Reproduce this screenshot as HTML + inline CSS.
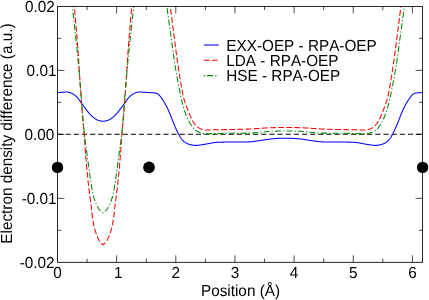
<!DOCTYPE html>
<html><head><meta charset="utf-8"><title>plot</title>
<style>
html,body{margin:0;padding:0;background:#fff;}
body{width:429px;height:300px;overflow:hidden;}
svg{display:block;}
text{font-family:"Liberation Sans",sans-serif;font-size:15.3px;fill:#000;font-kerning:none;text-rendering:geometricPrecision;}
</style></head><body>
<svg width="429" height="300" viewBox="0 0 429 300">
<rect width="429" height="300" fill="#fff"/>
<defs><clipPath id="c"><rect x="57.5" y="6.4" width="365.1" height="255.9"/></clipPath></defs>
<g clip-path="url(#c)" fill="none" stroke-width="1.05" stroke-linejoin="round">
<path d="M57.5,134.3 L422.6,134.3" stroke="#000" stroke-dasharray="5.1 3.05"/>
<path d="M57.50,92.51 L57.75,92.50 L58.00,92.48 L58.25,92.47 L58.50,92.46 L58.75,92.44 L59.00,92.43 L59.25,92.42 L59.50,92.40 L59.75,92.39 L60.00,92.38 L60.25,92.36 L60.50,92.35 L60.75,92.34 L61.00,92.32 L61.25,92.31 L61.50,92.29 L61.75,92.28 L62.00,92.26 L62.25,92.25 L62.50,92.23 L62.75,92.21 L63.00,92.19 L63.25,92.17 L63.50,92.15 L63.75,92.13 L64.00,92.12 L64.25,92.10 L64.50,92.08 L64.75,92.07 L65.00,92.05 L65.25,92.04 L65.50,92.03 L65.75,92.02 L66.00,92.01 L66.25,92.00 L66.50,92.00 L66.75,92.00 L67.00,92.01 L67.25,92.02 L67.50,92.05 L67.75,92.08 L68.00,92.13 L68.25,92.18 L68.50,92.23 L68.75,92.29 L69.00,92.36 L69.25,92.43 L69.50,92.51 L69.75,92.58 L70.00,92.67 L70.25,92.75 L70.50,92.83 L70.75,92.92 L71.00,93.00 L71.25,93.09 L71.50,93.19 L71.75,93.31 L72.00,93.43 L72.25,93.56 L72.50,93.70 L72.75,93.85 L73.00,94.00 L73.25,94.16 L73.50,94.33 L73.75,94.49 L74.00,94.66 L74.25,94.83 L74.50,95.01 L74.75,95.19 L75.00,95.39 L75.25,95.58 L75.50,95.79 L75.75,96.00 L76.00,96.23 L76.25,96.45 L76.50,96.69 L76.75,96.93 L77.00,97.18 L77.25,97.44 L77.50,97.71 L77.75,97.99 L78.00,98.30 L78.25,98.62 L78.50,98.95 L78.75,99.30 L79.00,99.65 L79.25,100.01 L79.50,100.38 L79.75,100.75 L80.00,101.12 L80.25,101.49 L80.50,101.85 L80.75,102.21 L81.00,102.56 L81.25,102.90 L81.50,103.24 L81.75,103.58 L82.00,103.92 L82.25,104.26 L82.50,104.59 L82.75,104.93 L83.00,105.26 L83.25,105.60 L83.50,105.93 L83.75,106.27 L84.00,106.60 L84.25,106.93 L84.50,107.27 L84.75,107.60 L85.00,107.94 L85.25,108.28 L85.50,108.62 L85.75,108.96 L86.00,109.30 L86.25,109.63 L86.50,109.96 L86.75,110.29 L87.00,110.62 L87.25,110.94 L87.50,111.25 L87.75,111.56 L88.00,111.87 L88.25,112.18 L88.50,112.49 L88.75,112.80 L89.00,113.10 L89.25,113.40 L89.50,113.69 L89.75,113.98 L90.00,114.26 L90.25,114.53 L90.50,114.80 L90.75,115.05 L91.00,115.30 L91.25,115.54 L91.50,115.77 L91.75,116.00 L92.00,116.23 L92.25,116.45 L92.50,116.66 L92.75,116.88 L93.00,117.08 L93.25,117.29 L93.50,117.49 L93.75,117.68 L94.00,117.88 L94.25,118.07 L94.50,118.26 L94.75,118.44 L95.00,118.62 L95.25,118.80 L95.50,118.97 L95.75,119.12 L96.00,119.27 L96.25,119.41 L96.50,119.54 L96.75,119.67 L97.00,119.80 L97.25,119.91 L97.50,120.03 L97.75,120.13 L98.00,120.23 L98.25,120.32 L98.50,120.40 L98.75,120.49 L99.00,120.57 L99.25,120.65 L99.50,120.73 L99.75,120.80 L100.00,120.86 L100.25,120.91 L100.50,120.96 L100.75,120.99 L101.00,121.03 L101.25,121.06 L101.50,121.09 L101.75,121.12 L102.00,121.15 L102.25,121.17 L102.50,121.18 L102.75,121.20 L103.00,121.20 L103.25,121.20 L103.50,121.19 L103.75,121.17 L104.00,121.16 L104.25,121.13 L104.50,121.10 L104.75,121.07 L105.00,121.04 L105.25,121.01 L105.50,120.97 L105.75,120.93 L106.00,120.88 L106.25,120.82 L106.50,120.76 L106.75,120.68 L107.00,120.61 L107.25,120.52 L107.50,120.44 L107.75,120.35 L108.00,120.26 L108.25,120.17 L108.50,120.07 L108.75,119.96 L109.00,119.84 L109.25,119.72 L109.50,119.60 L109.75,119.46 L110.00,119.33 L110.25,119.18 L110.50,119.03 L110.75,118.87 L111.00,118.70 L111.25,118.52 L111.50,118.33 L111.75,118.14 L112.00,117.95 L112.25,117.76 L112.50,117.57 L112.75,117.37 L113.00,117.17 L113.25,116.96 L113.50,116.75 L113.75,116.54 L114.00,116.32 L114.25,116.09 L114.50,115.87 L114.75,115.63 L115.00,115.39 L115.25,115.15 L115.50,114.90 L115.75,114.64 L116.00,114.37 L116.25,114.09 L116.50,113.81 L116.75,113.52 L117.00,113.22 L117.25,112.92 L117.50,112.62 L117.75,112.31 L118.00,112.00 L118.25,111.69 L118.50,111.37 L118.75,111.06 L119.00,110.74 L119.25,110.42 L119.50,110.09 L119.75,109.76 L120.00,109.43 L120.25,109.09 L120.50,108.76 L120.75,108.42 L121.00,108.08 L121.25,107.74 L121.50,107.40 L121.75,107.07 L122.00,106.73 L122.25,106.40 L122.50,106.06 L122.75,105.73 L123.00,105.40 L123.25,105.06 L123.50,104.73 L123.75,104.39 L124.00,104.05 L124.25,103.72 L124.50,103.38 L124.75,103.04 L125.00,102.70 L125.25,102.35 L125.50,102.00 L125.75,101.64 L126.00,101.27 L126.25,100.90 L126.50,100.53 L126.75,100.16 L127.00,99.80 L127.25,99.44 L127.50,99.09 L127.75,98.75 L128.00,98.42 L128.25,98.11 L128.50,97.82 L128.75,97.55 L129.00,97.29 L129.25,97.03 L129.50,96.79 L129.75,96.55 L130.00,96.32 L130.25,96.09 L130.50,95.88 L130.75,95.67 L131.00,95.46 L131.25,95.27 L131.50,95.08 L131.75,94.90 L132.00,94.73 L132.25,94.56 L132.50,94.39 L132.75,94.23 L133.00,94.07 L133.25,93.91 L133.50,93.76 L133.75,93.62 L134.00,93.48 L134.25,93.35 L134.50,93.24 L134.75,93.13 L135.00,93.03 L135.25,92.95 L135.50,92.87 L135.75,92.78 L136.00,92.70 L136.25,92.62 L136.50,92.54 L136.75,92.46 L137.00,92.39 L137.25,92.32 L137.50,92.26 L137.75,92.20 L138.00,92.15 L138.25,92.10 L138.50,92.06 L138.75,92.03 L139.00,92.01 L139.25,92.00 L139.50,92.00 L139.75,92.00 L140.00,92.01 L140.25,92.01 L140.50,92.02 L140.75,92.03 L141.00,92.05 L141.25,92.06 L141.50,92.08 L141.75,92.09 L142.00,92.11 L142.25,92.13 L142.50,92.15 L142.75,92.16 L143.00,92.18 L143.25,92.20 L143.50,92.22 L143.75,92.24 L144.00,92.26 L144.25,92.27 L144.50,92.29 L144.75,92.30 L145.00,92.32 L145.25,92.33 L145.50,92.34 L145.75,92.36 L146.00,92.37 L146.25,92.38 L146.50,92.40 L146.75,92.41 L147.00,92.42 L147.25,92.44 L147.50,92.45 L147.75,92.46 L148.00,92.48 L148.25,92.49 L148.50,92.51 L148.75,92.52 L149.00,92.54 L149.25,92.55 L149.50,92.57 L149.75,92.58 L150.00,92.60 L150.25,92.62 L150.50,92.63 L150.75,92.65 L151.00,92.66 L151.25,92.68 L151.50,92.69 L151.75,92.71 L152.00,92.73 L152.25,92.74 L152.50,92.76 L152.75,92.78 L153.00,92.79 L153.25,92.81 L153.50,92.84 L153.75,92.86 L154.00,92.88 L154.25,92.91 L154.50,92.94 L154.75,92.97 L155.00,93.00 L155.25,93.03 L155.50,93.07 L155.75,93.11 L156.00,93.16 L156.25,93.24 L156.50,93.33 L156.75,93.43 L157.00,93.55 L157.25,93.68 L157.50,93.82 L157.75,93.98 L158.00,94.13 L158.25,94.30 L158.50,94.47 L158.75,94.67 L159.00,94.90 L159.25,95.16 L159.50,95.44 L159.75,95.74 L160.00,96.05 L160.25,96.37 L160.50,96.70 L160.75,97.04 L161.00,97.37 L161.25,97.70 L161.50,98.04 L161.75,98.39 L162.00,98.75 L162.25,99.12 L162.50,99.50 L162.75,99.88 L163.00,100.27 L163.25,100.67 L163.50,101.08 L163.75,101.49 L164.00,101.90 L164.25,102.32 L164.50,102.74 L164.75,103.16 L165.00,103.59 L165.25,104.03 L165.50,104.47 L165.75,104.92 L166.00,105.38 L166.25,105.85 L166.50,106.32 L166.75,106.80 L167.00,107.29 L167.25,107.79 L167.50,108.30 L167.75,108.82 L168.00,109.36 L168.25,109.90 L168.50,110.46 L168.75,111.03 L169.00,111.61 L169.25,112.20 L169.50,112.80 L169.75,113.40 L170.00,114.01 L170.25,114.62 L170.50,115.25 L170.75,115.90 L171.00,116.56 L171.25,117.23 L171.50,117.90 L171.75,118.57 L172.00,119.23 L172.25,119.87 L172.50,120.50 L172.75,121.13 L173.00,121.76 L173.25,122.38 L173.50,123.00 L173.75,123.62 L174.00,124.23 L174.25,124.83 L174.50,125.42 L174.75,126.01 L175.00,126.59 L175.25,127.16 L175.50,127.72 L175.75,128.28 L176.00,128.83 L176.25,129.38 L176.50,129.93 L176.75,130.46 L177.00,130.99 L177.25,131.52 L177.50,132.03 L177.75,132.53 L178.00,133.02 L178.25,133.50 L178.50,133.97 L178.75,134.42 L179.00,134.88 L179.25,135.33 L179.50,135.78 L179.75,136.22 L180.00,136.66 L180.25,137.08 L180.50,137.49 L180.75,137.88 L181.00,138.26 L181.25,138.61 L181.50,138.94 L181.75,139.24 L182.00,139.53 L182.25,139.80 L182.50,140.07 L182.75,140.33 L183.00,140.59 L183.25,140.84 L183.50,141.08 L183.75,141.31 L184.00,141.53 L184.25,141.74 L184.50,141.95 L184.75,142.14 L185.00,142.32 L185.25,142.50 L185.50,142.66 L185.75,142.81 L186.00,142.95 L186.25,143.08 L186.50,143.20 L186.75,143.32 L187.00,143.44 L187.25,143.56 L187.50,143.67 L187.75,143.78 L188.00,143.88 L188.25,143.98 L188.50,144.08 L188.75,144.18 L189.00,144.27 L189.25,144.35 L189.50,144.43 L189.75,144.51 L190.00,144.58 L190.25,144.65 L190.50,144.71 L190.75,144.77 L191.00,144.82 L191.25,144.87 L191.50,144.92 L191.75,144.96 L192.00,145.00 L192.25,145.05 L192.50,145.09 L192.75,145.13 L193.00,145.17 L193.25,145.20 L193.50,145.24 L193.75,145.27 L194.00,145.30 L194.25,145.32 L194.50,145.35 L194.75,145.37 L195.00,145.38 L195.25,145.39 L195.50,145.40 L195.75,145.40 L196.00,145.40 L196.25,145.39 L196.50,145.38 L196.75,145.37 L197.00,145.35 L197.25,145.34 L197.50,145.32 L197.75,145.29 L198.00,145.27 L198.25,145.24 L198.50,145.21 L198.75,145.18 L199.00,145.15 L199.25,145.12 L199.50,145.08 L199.75,145.05 L200.00,145.01 L200.25,144.98 L200.50,144.94 L200.75,144.90 L201.00,144.87 L201.25,144.83 L201.50,144.80 L201.75,144.76 L202.00,144.73 L202.25,144.69 L202.50,144.66 L202.75,144.62 L203.00,144.59 L203.25,144.55 L203.50,144.51 L203.75,144.47 L204.00,144.43 L204.25,144.38 L204.50,144.34 L204.75,144.30 L205.00,144.25 L205.25,144.20 L205.50,144.16 L205.75,144.11 L206.00,144.07 L206.25,144.02 L206.50,143.97 L206.75,143.93 L207.00,143.88 L207.25,143.84 L207.50,143.79 L207.75,143.75 L208.00,143.70 L208.25,143.66 L208.50,143.62 L208.75,143.57 L209.00,143.53 L209.25,143.49 L209.50,143.44 L209.75,143.39 L210.00,143.34 L210.25,143.30 L210.50,143.25 L210.75,143.20 L211.00,143.15 L211.25,143.10 L211.50,143.05 L211.75,143.00 L212.00,142.95 L212.25,142.90 L212.50,142.85 L212.75,142.81 L213.00,142.76 L213.25,142.72 L213.50,142.68 L213.75,142.64 L214.00,142.60 L214.25,142.57 L214.50,142.53 L214.75,142.50 L215.00,142.48 L215.25,142.45 L215.50,142.43 L215.75,142.41 L216.00,142.40 L216.25,142.39 L216.50,142.38 L216.75,142.36 L217.00,142.35 L217.25,142.34 L217.50,142.33 L217.75,142.32 L218.00,142.31 L218.25,142.30 L218.50,142.29 L218.75,142.28 L219.00,142.27 L219.25,142.26 L219.50,142.25 L219.75,142.24 L220.00,142.23 L220.25,142.22 L220.50,142.21 L220.75,142.20 L221.00,142.19 L221.25,142.18 L221.50,142.17 L221.75,142.16 L222.00,142.16 L222.25,142.15 L222.50,142.14 L222.75,142.13 L223.00,142.13 L223.25,142.12 L223.50,142.11 L223.75,142.10 L224.00,142.10 L224.25,142.09 L224.50,142.09 L224.75,142.08 L225.00,142.07 L225.25,142.07 L225.50,142.06 L225.75,142.06 L226.00,142.05 L226.25,142.05 L226.50,142.04 L226.75,142.04 L227.00,142.04 L227.25,142.03 L227.50,142.03 L227.75,142.02 L228.00,142.02 L228.25,142.02 L228.50,142.02 L228.75,142.01 L229.00,142.01 L229.25,142.01 L229.50,142.01 L229.75,142.01 L230.00,142.00 L230.25,142.00 L230.50,142.00 L230.75,142.00 L231.00,142.00 L231.25,142.00 L231.50,142.00 L231.75,142.00 L232.00,142.00 L232.25,142.00 L232.50,142.00 L232.75,142.00 L233.00,142.00 L233.25,142.00 L233.50,142.00 L233.75,142.00 L234.00,142.00 L234.25,142.00 L234.50,142.00 L234.75,142.00 L235.00,142.00 L235.25,142.00 L235.50,142.00 L235.75,142.00 L236.00,142.00 L236.25,142.00 L236.50,142.00 L236.75,142.00 L237.00,142.00 L237.25,142.00 L237.50,142.00 L237.75,142.00 L238.00,142.00 L238.25,142.00 L238.50,142.00 L238.75,142.00 L239.00,142.00 L239.25,142.00 L239.50,142.00 L239.75,142.00 L240.00,142.00 L240.25,142.00 L240.50,142.00 L240.75,142.00 L241.00,142.00 L241.25,142.00 L241.50,142.00 L241.75,142.00 L242.00,142.00 L242.25,142.00 L242.50,142.00 L242.75,142.00 L243.00,142.00 L243.25,142.00 L243.50,141.99 L243.75,141.99 L244.00,141.99 L244.25,141.99 L244.50,141.98 L244.75,141.98 L245.00,141.98 L245.25,141.97 L245.50,141.97 L245.75,141.96 L246.00,141.96 L246.25,141.95 L246.50,141.94 L246.75,141.94 L247.00,141.93 L247.25,141.92 L247.50,141.92 L247.75,141.91 L248.00,141.90 L248.25,141.89 L248.50,141.88 L248.75,141.88 L249.00,141.87 L249.25,141.86 L249.50,141.85 L249.75,141.84 L250.00,141.83 L250.25,141.82 L250.50,141.81 L250.75,141.80 L251.00,141.78 L251.25,141.77 L251.50,141.75 L251.75,141.72 L252.00,141.69 L252.25,141.66 L252.50,141.63 L252.75,141.60 L253.00,141.56 L253.25,141.52 L253.50,141.48 L253.75,141.44 L254.00,141.40 L254.25,141.36 L254.50,141.32 L254.75,141.28 L255.00,141.24 L255.25,141.21 L255.50,141.17 L255.75,141.13 L256.00,141.10 L256.25,141.07 L256.50,141.04 L256.75,141.00 L257.00,140.97 L257.25,140.94 L257.50,140.91 L257.75,140.88 L258.00,140.85 L258.25,140.82 L258.50,140.79 L258.75,140.75 L259.00,140.72 L259.25,140.69 L259.50,140.66 L259.75,140.63 L260.00,140.59 L260.25,140.56 L260.50,140.53 L260.75,140.49 L261.00,140.46 L261.25,140.42 L261.50,140.39 L261.75,140.35 L262.00,140.31 L262.25,140.27 L262.50,140.23 L262.75,140.19 L263.00,140.15 L263.25,140.11 L263.50,140.07 L263.75,140.03 L264.00,139.99 L264.25,139.95 L264.50,139.90 L264.75,139.86 L265.00,139.82 L265.25,139.78 L265.50,139.74 L265.75,139.69 L266.00,139.65 L266.25,139.61 L266.50,139.57 L266.75,139.53 L267.00,139.49 L267.25,139.45 L267.50,139.41 L267.75,139.37 L268.00,139.33 L268.25,139.29 L268.50,139.26 L268.75,139.22 L269.00,139.18 L269.25,139.15 L269.50,139.12 L269.75,139.08 L270.00,139.05 L270.25,139.02 L270.50,138.99 L270.75,138.97 L271.00,138.94 L271.25,138.91 L271.50,138.89 L271.75,138.87 L272.00,138.84 L272.25,138.82 L272.50,138.80 L272.75,138.78 L273.00,138.75 L273.25,138.73 L273.50,138.71 L273.75,138.69 L274.00,138.66 L274.25,138.64 L274.50,138.62 L274.75,138.60 L275.00,138.58 L275.25,138.56 L275.50,138.54 L275.75,138.52 L276.00,138.51 L276.25,138.49 L276.50,138.47 L276.75,138.45 L277.00,138.44 L277.25,138.42 L277.50,138.41 L277.75,138.39 L278.00,138.38 L278.25,138.37 L278.50,138.36 L278.75,138.34 L279.00,138.33 L279.25,138.32 L279.50,138.32 L279.75,138.31 L280.00,138.30 L280.25,138.29 L280.50,138.29 L280.75,138.28 L281.00,138.27 L281.25,138.27 L281.50,138.26 L281.75,138.25 L282.00,138.25 L282.25,138.24 L282.50,138.24 L282.75,138.23 L283.00,138.23 L283.25,138.22 L283.50,138.22 L283.75,138.21 L284.00,138.21 L284.25,138.21 L284.50,138.21 L284.75,138.20 L285.00,138.20 L285.25,138.20 L285.50,138.20 L285.75,138.20 L286.00,138.20 L286.25,138.20 L286.50,138.20 L286.75,138.21 L287.00,138.21 L287.25,138.21 L287.50,138.22 L287.75,138.22 L288.00,138.22 L288.25,138.23 L288.50,138.23 L288.75,138.24 L289.00,138.24 L289.25,138.25 L289.50,138.26 L289.75,138.26 L290.00,138.27 L290.25,138.27 L290.50,138.28 L290.75,138.29 L291.00,138.29 L291.25,138.30 L291.50,138.31 L291.75,138.32 L292.00,138.33 L292.25,138.34 L292.50,138.35 L292.75,138.36 L293.00,138.37 L293.25,138.38 L293.50,138.40 L293.75,138.41 L294.00,138.43 L294.25,138.44 L294.50,138.46 L294.75,138.47 L295.00,138.49 L295.25,138.51 L295.50,138.53 L295.75,138.55 L296.00,138.57 L296.25,138.59 L296.50,138.61 L296.75,138.63 L297.00,138.65 L297.25,138.67 L297.50,138.69 L297.75,138.71 L298.00,138.73 L298.25,138.76 L298.50,138.78 L298.75,138.80 L299.00,138.83 L299.25,138.85 L299.50,138.87 L299.75,138.90 L300.00,138.92 L300.25,138.94 L300.50,138.97 L300.75,139.00 L301.00,139.03 L301.25,139.06 L301.50,139.09 L301.75,139.12 L302.00,139.16 L302.25,139.19 L302.50,139.23 L302.75,139.26 L303.00,139.30 L303.25,139.34 L303.50,139.38 L303.75,139.42 L304.00,139.46 L304.25,139.50 L304.50,139.54 L304.75,139.58 L305.00,139.62 L305.25,139.66 L305.50,139.70 L305.75,139.74 L306.00,139.79 L306.25,139.83 L306.50,139.87 L306.75,139.91 L307.00,139.95 L307.25,140.00 L307.50,140.04 L307.75,140.08 L308.00,140.12 L308.25,140.16 L308.50,140.20 L308.75,140.24 L309.00,140.28 L309.25,140.32 L309.50,140.36 L309.75,140.39 L310.00,140.43 L310.25,140.47 L310.50,140.50 L310.75,140.53 L311.00,140.57 L311.25,140.60 L311.50,140.63 L311.75,140.66 L312.00,140.70 L312.25,140.73 L312.50,140.76 L312.75,140.79 L313.00,140.82 L313.25,140.85 L313.50,140.88 L313.75,140.92 L314.00,140.95 L314.25,140.98 L314.50,141.01 L314.75,141.04 L315.00,141.07 L315.25,141.11 L315.50,141.14 L315.75,141.18 L316.00,141.21 L316.25,141.25 L316.50,141.29 L316.75,141.33 L317.00,141.37 L317.25,141.41 L317.50,141.45 L317.75,141.49 L318.00,141.53 L318.25,141.57 L318.50,141.60 L318.75,141.64 L319.00,141.67 L319.25,141.70 L319.50,141.73 L319.75,141.75 L320.00,141.77 L320.25,141.79 L320.50,141.80 L320.75,141.81 L321.00,141.82 L321.25,141.83 L321.50,141.84 L321.75,141.85 L322.00,141.86 L322.25,141.87 L322.50,141.88 L322.75,141.89 L323.00,141.89 L323.25,141.90 L323.50,141.91 L323.75,141.92 L324.00,141.92 L324.25,141.93 L324.50,141.94 L324.75,141.94 L325.00,141.95 L325.25,141.96 L325.50,141.96 L325.75,141.97 L326.00,141.97 L326.25,141.98 L326.50,141.98 L326.75,141.98 L327.00,141.99 L327.25,141.99 L327.50,141.99 L327.75,141.99 L328.00,142.00 L328.25,142.00 L328.50,142.00 L328.75,142.00 L329.00,142.00 L329.25,142.00 L329.50,142.00 L329.75,142.00 L330.00,142.00 L330.25,142.00 L330.50,142.00 L330.75,142.00 L331.00,142.00 L331.25,142.00 L331.50,142.00 L331.75,142.00 L332.00,142.00 L332.25,142.00 L332.50,142.00 L332.75,142.00 L333.00,142.00 L333.25,142.00 L333.50,142.00 L333.75,142.00 L334.00,142.00 L334.25,142.00 L334.50,142.00 L334.75,142.00 L335.00,142.00 L335.25,142.00 L335.50,142.00 L335.75,142.00 L336.00,142.00 L336.25,142.00 L336.50,142.00 L336.75,142.00 L337.00,142.00 L337.25,142.00 L337.50,142.00 L337.75,142.00 L338.00,142.00 L338.25,142.00 L338.50,142.00 L338.75,142.00 L339.00,142.00 L339.25,142.00 L339.50,142.00 L339.75,142.00 L340.00,142.00 L340.25,142.00 L340.50,142.00 L340.75,142.00 L341.00,142.00 L341.25,142.00 L341.50,142.01 L341.75,142.01 L342.00,142.01 L342.25,142.01 L342.50,142.01 L342.75,142.02 L343.00,142.02 L343.25,142.02 L343.50,142.03 L343.75,142.03 L344.00,142.03 L344.25,142.04 L344.50,142.04 L344.75,142.04 L345.00,142.05 L345.25,142.05 L345.50,142.06 L345.75,142.06 L346.00,142.07 L346.25,142.07 L346.50,142.08 L346.75,142.09 L347.00,142.09 L347.25,142.10 L347.50,142.11 L347.75,142.11 L348.00,142.12 L348.25,142.13 L348.50,142.13 L348.75,142.14 L349.00,142.15 L349.25,142.16 L349.50,142.17 L349.75,142.17 L350.00,142.18 L350.25,142.19 L350.50,142.20 L350.75,142.21 L351.00,142.22 L351.25,142.23 L351.50,142.24 L351.75,142.25 L352.00,142.26 L352.25,142.27 L352.50,142.28 L352.75,142.29 L353.00,142.30 L353.25,142.31 L353.50,142.32 L353.75,142.33 L354.00,142.34 L354.25,142.35 L354.50,142.37 L354.75,142.38 L355.00,142.39 L355.25,142.40 L355.50,142.42 L355.75,142.44 L356.00,142.46 L356.25,142.48 L356.50,142.51 L356.75,142.54 L357.00,142.57 L357.25,142.61 L357.50,142.65 L357.75,142.69 L358.00,142.73 L358.25,142.77 L358.50,142.82 L358.75,142.86 L359.00,142.91 L359.25,142.96 L359.50,143.01 L359.75,143.06 L360.00,143.11 L360.25,143.16 L360.50,143.21 L360.75,143.26 L361.00,143.31 L361.25,143.35 L361.50,143.40 L361.75,143.45 L362.00,143.50 L362.25,143.54 L362.50,143.58 L362.75,143.63 L363.00,143.67 L363.25,143.71 L363.50,143.76 L363.75,143.80 L364.00,143.85 L364.25,143.89 L364.50,143.94 L364.75,143.98 L365.00,144.03 L365.25,144.08 L365.50,144.12 L365.75,144.17 L366.00,144.21 L366.25,144.26 L366.50,144.30 L366.75,144.35 L367.00,144.39 L367.25,144.43 L367.50,144.48 L367.75,144.52 L368.00,144.56 L368.25,144.59 L368.50,144.63 L368.75,144.67 L369.00,144.70 L369.25,144.73 L369.50,144.77 L369.75,144.80 L370.00,144.84 L370.25,144.88 L370.50,144.91 L370.75,144.95 L371.00,144.99 L371.25,145.02 L371.50,145.06 L371.75,145.09 L372.00,145.12 L372.25,145.16 L372.50,145.19 L372.75,145.22 L373.00,145.25 L373.25,145.27 L373.50,145.30 L373.75,145.32 L374.00,145.34 L374.25,145.36 L374.50,145.37 L374.75,145.38 L375.00,145.39 L375.25,145.40 L375.50,145.40 L375.75,145.40 L376.00,145.39 L376.25,145.38 L376.50,145.36 L376.75,145.34 L377.00,145.32 L377.25,145.29 L377.50,145.26 L377.75,145.23 L378.00,145.19 L378.25,145.16 L378.50,145.12 L378.75,145.08 L379.00,145.04 L379.25,144.99 L379.50,144.95 L379.75,144.91 L380.00,144.86 L380.25,144.81 L380.50,144.76 L380.75,144.70 L381.00,144.64 L381.25,144.57 L381.50,144.49 L381.75,144.42 L382.00,144.33 L382.25,144.25 L382.50,144.16 L382.75,144.06 L383.00,143.96 L383.25,143.86 L383.50,143.76 L383.75,143.65 L384.00,143.54 L384.25,143.42 L384.50,143.30 L384.75,143.18 L385.00,143.05 L385.25,142.92 L385.50,142.78 L385.75,142.63 L386.00,142.46 L386.25,142.29 L386.50,142.10 L386.75,141.91 L387.00,141.70 L387.25,141.49 L387.50,141.26 L387.75,141.03 L388.00,140.79 L388.25,140.54 L388.50,140.28 L388.75,140.02 L389.00,139.75 L389.25,139.47 L389.50,139.18 L389.75,138.87 L390.00,138.54 L390.25,138.18 L390.50,137.80 L390.75,137.41 L391.00,137.00 L391.25,136.57 L391.50,136.13 L391.75,135.69 L392.00,135.24 L392.25,134.79 L392.50,134.33 L392.75,133.88 L393.00,133.41 L393.25,132.92 L393.50,132.43 L393.75,131.93 L394.00,131.41 L394.25,130.89 L394.50,130.36 L394.75,129.82 L395.00,129.27 L395.25,128.72 L395.50,128.17 L395.75,127.61 L396.00,127.05 L396.25,126.48 L396.50,125.90 L396.75,125.31 L397.00,124.71 L397.25,124.10 L397.50,123.49 L397.75,122.88 L398.00,122.26 L398.25,121.63 L398.50,121.01 L398.75,120.38 L399.00,119.75 L399.25,119.10 L399.50,118.44 L399.75,117.77 L400.00,117.10 L400.25,116.43 L400.50,115.77 L400.75,115.13 L401.00,114.50 L401.25,113.89 L401.50,113.28 L401.75,112.68 L402.00,112.08 L402.25,111.50 L402.50,110.92 L402.75,110.35 L403.00,109.79 L403.25,109.25 L403.50,108.72 L403.75,108.20 L404.00,107.69 L404.25,107.19 L404.50,106.71 L404.75,106.23 L405.00,105.75 L405.25,105.29 L405.50,104.83 L405.75,104.38 L406.00,103.94 L406.25,103.51 L406.50,103.08 L406.75,102.65 L407.00,102.23 L407.25,101.82 L407.50,101.40 L407.75,101.00 L408.00,100.59 L408.25,100.20 L408.50,99.80 L408.75,99.42 L409.00,99.04 L409.25,98.68 L409.50,98.32 L409.75,97.97 L410.00,97.63 L410.25,97.30 L410.50,96.97 L410.75,96.64 L411.00,96.31 L411.25,95.99 L411.50,95.68 L411.75,95.38 L412.00,95.11 L412.25,94.85 L412.50,94.63 L412.75,94.43 L413.00,94.27 L413.25,94.10 L413.50,93.94 L413.75,93.79 L414.00,93.65 L414.25,93.53 L414.50,93.41 L414.75,93.31 L415.00,93.22 L415.25,93.15 L415.50,93.10 L415.75,93.06 L416.00,93.02 L416.25,92.99 L416.50,92.96 L416.75,92.93 L417.00,92.90 L417.25,92.88 L417.50,92.85 L417.75,92.83 L418.00,92.81 L418.25,92.79 L418.50,92.77 L418.75,92.76 L419.00,92.74 L419.25,92.72 L419.50,92.71 L419.75,92.69 L420.00,92.68 L420.25,92.66 L420.50,92.65 L420.75,92.63 L421.00,92.61 L421.25,92.60 L421.50,92.58 L421.75,92.56 L422.00,92.55 L422.25,92.53 L422.50,92.52 L422.60,92.51" stroke="#0000ff"/>
<path d="M57.50,-25.00 L57.75,-25.00 L58.00,-25.00 L58.25,-25.00 L58.50,-25.00 L58.75,-25.00 L59.00,-25.00 L59.25,-25.00 L59.50,-25.00 L59.75,-25.00 L60.00,-25.00 L60.25,-25.00 L60.50,-25.00 L60.75,-25.00 L61.00,-25.00 L61.25,-25.00 L61.50,-25.00 L61.75,-25.00 L62.00,-25.00 L62.25,-25.00 L62.50,-25.00 L62.75,-25.00 L63.00,-25.00 L63.25,-25.00 L63.50,-25.00 L63.75,-25.00 L64.00,-25.00 L64.25,-25.00 L64.50,-25.00 L64.75,-25.00 L65.00,-25.00 L65.25,-25.00 L65.50,-25.00 L65.75,-25.00 L66.00,-25.00 L66.25,-25.00 L66.50,-25.00 L66.75,-25.00 L67.00,-25.00 L67.25,-25.00 L67.50,-25.00 L67.75,-25.00 L68.00,-25.00 L68.25,-25.00 L68.50,-25.00 L68.75,-25.00 L69.00,-25.00 L69.25,-25.00 L69.50,-25.00 L69.75,-25.00 L70.00,-25.00 L70.25,-25.00 L70.50,-25.00 L70.75,-25.00 L71.00,-25.00 L71.25,-25.00 L71.50,-25.00 L71.75,-24.98 L72.00,-24.24 L72.25,-22.57 L72.50,-20.14 L72.75,-17.09 L73.00,-13.58 L73.25,-9.78 L73.50,-5.83 L73.75,-1.91 L74.00,1.84 L74.25,5.26 L74.50,8.29 L74.75,11.23 L75.00,14.15 L75.25,17.05 L75.50,19.94 L75.75,22.84 L76.00,25.75 L76.25,28.68 L76.50,31.65 L76.75,34.66 L77.00,37.72 L77.25,40.84 L77.50,44.05 L77.75,47.33 L78.00,50.74 L78.25,54.30 L78.50,57.99 L78.75,61.78 L79.00,65.64 L79.25,69.54 L79.50,73.45 L79.75,77.34 L80.00,81.17 L80.25,84.93 L80.50,88.58 L80.75,92.12 L81.00,95.65 L81.25,99.18 L81.50,102.67 L81.75,106.12 L82.00,109.50 L82.25,112.80 L82.50,115.99 L82.75,119.07 L83.00,122.00 L83.25,124.68 L83.50,127.13 L83.75,129.54 L84.00,132.07 L84.25,134.90 L84.50,138.19 L84.75,141.81 L85.00,145.56 L85.25,149.27 L85.50,152.73 L85.75,155.84 L86.00,158.84 L86.25,161.77 L86.50,164.63 L86.75,167.41 L87.00,170.13 L87.25,172.78 L87.50,175.37 L87.75,177.89 L88.00,180.35 L88.25,182.74 L88.50,185.08 L88.75,187.35 L89.00,189.49 L89.25,191.55 L89.50,193.54 L89.75,195.51 L90.00,197.49 L90.25,199.40 L90.50,201.27 L90.75,203.14 L91.00,205.03 L91.25,207.00 L91.50,209.10 L91.75,211.34 L92.00,213.56 L92.25,215.62 L92.50,217.48 L92.75,219.28 L93.00,220.99 L93.25,222.58 L93.50,224.01 L93.75,225.23 L94.00,226.33 L94.25,227.36 L94.50,228.33 L94.75,229.25 L95.00,230.11 L95.25,230.93 L95.50,231.70 L95.75,232.44 L96.00,233.15 L96.25,233.84 L96.50,234.50 L96.75,235.15 L97.00,235.79 L97.25,236.42 L97.50,237.03 L97.75,237.62 L98.00,238.19 L98.25,238.73 L98.50,239.26 L98.75,239.75 L99.00,240.22 L99.25,240.66 L99.50,241.06 L99.75,241.43 L100.00,241.76 L100.25,242.06 L100.50,242.34 L100.75,242.60 L101.00,242.84 L101.25,243.08 L101.50,243.31 L101.75,243.55 L102.00,243.80 L102.25,244.08 L102.50,244.42 L102.75,244.73 L103.00,244.89 L103.25,244.82 L103.50,244.56 L103.75,244.21 L104.00,243.90 L104.25,243.65 L104.50,243.40 L104.75,243.17 L105.00,242.94 L105.25,242.70 L105.50,242.45 L105.75,242.18 L106.00,241.89 L106.25,241.57 L106.50,241.21 L106.75,240.82 L107.00,240.40 L107.25,239.94 L107.50,239.46 L107.75,238.95 L108.00,238.41 L108.25,237.85 L108.50,237.26 L108.75,236.66 L109.00,236.04 L109.25,235.41 L109.50,234.76 L109.75,234.10 L110.00,233.43 L110.25,232.73 L110.50,232.00 L110.75,231.24 L111.00,230.44 L111.25,229.60 L111.50,228.70 L111.75,227.76 L112.00,226.75 L112.25,225.68 L112.50,224.52 L112.75,223.17 L113.00,221.65 L113.25,219.98 L113.50,218.20 L113.75,216.37 L114.00,214.42 L114.25,212.24 L114.50,209.98 L114.75,207.81 L115.00,205.81 L115.25,203.89 L115.50,202.02 L115.75,200.15 L116.00,198.26 L116.25,196.30 L116.50,194.33 L116.75,192.35 L117.00,190.32 L117.25,188.22 L117.50,186.00 L117.75,183.69 L118.00,181.31 L118.25,178.88 L118.50,176.39 L118.75,173.83 L119.00,171.20 L119.25,168.51 L119.50,165.75 L119.75,162.92 L120.00,160.02 L120.25,157.05 L120.50,154.00 L120.75,150.69 L121.00,147.06 L121.25,143.30 L121.50,139.61 L121.75,136.17 L122.00,133.15 L122.25,130.52 L122.50,128.09 L122.75,125.68 L123.00,123.11 L123.25,120.26 L123.50,117.24 L123.75,114.09 L124.00,110.83 L124.25,107.48 L124.50,104.06 L124.75,100.58 L125.00,97.06 L125.25,93.53 L125.50,90.00 L125.75,86.40 L126.00,82.69 L126.25,78.88 L126.50,75.01 L126.75,71.10 L127.00,67.20 L127.25,63.32 L127.50,59.50 L127.75,55.76 L128.00,52.14 L128.25,48.67 L128.50,45.35 L128.75,42.12 L129.00,38.96 L129.25,35.87 L129.50,32.84 L129.75,29.86 L130.00,26.92 L130.25,24.00 L130.50,21.10 L130.75,18.21 L131.00,15.31 L131.25,12.40 L131.50,9.47 L131.75,6.50 L132.00,3.26 L132.25,-0.38 L132.50,-4.25 L132.75,-8.21 L133.00,-12.08 L133.25,-15.73 L133.50,-18.98 L133.75,-21.68 L134.00,-23.68 L134.25,-24.80 L134.50,-25.00 L134.75,-25.00 L135.00,-25.00 L135.25,-25.00 L135.50,-25.00 L135.75,-25.00 L136.00,-25.00 L136.25,-25.00 L136.50,-25.00 L136.75,-25.00 L137.00,-25.00 L137.25,-25.00 L137.50,-25.00 L137.75,-25.00 L138.00,-25.00 L138.25,-25.00 L138.50,-25.00 L138.75,-25.00 L139.00,-25.00 L139.25,-25.00 L139.50,-25.00 L139.75,-25.00 L140.00,-25.00 L140.25,-25.00 L140.50,-25.00 L140.75,-25.00 L141.00,-25.00 L141.25,-25.00 L141.50,-25.00 L141.75,-25.00 L142.00,-25.00 L142.25,-25.00 L142.50,-25.00 L142.75,-25.00 L143.00,-25.00 L143.25,-25.00 L143.50,-25.00 L143.75,-25.00 L144.00,-25.00 L144.25,-25.00 L144.50,-25.00 L144.75,-25.00 L145.00,-25.00 L145.25,-25.00 L145.50,-25.00 L145.75,-25.00 L146.00,-25.00 L146.25,-25.00 L146.50,-25.00 L146.75,-25.00 L147.00,-25.00 L147.25,-25.00 L147.50,-25.00 L147.75,-25.00 L148.00,-25.00 L148.25,-25.00 L148.50,-25.00 L148.75,-25.00 L149.00,-25.00 L149.25,-25.00 L149.50,-25.00 L149.75,-25.00 L150.00,-25.00 L150.25,-25.00 L150.50,-25.00 L150.75,-25.00 L151.00,-25.00 L151.25,-25.00 L151.50,-25.00 L151.75,-25.00 L152.00,-25.00 L152.25,-25.00 L152.50,-25.00 L152.75,-25.00 L153.00,-25.00 L153.25,-25.00 L153.50,-25.00 L153.75,-25.00 L154.00,-25.00 L154.25,-25.00 L154.50,-25.00 L154.75,-25.00 L155.00,-25.00 L155.25,-25.00 L155.50,-25.00 L155.75,-25.00 L156.00,-25.00 L156.25,-25.00 L156.50,-25.00 L156.75,-25.00 L157.00,-25.00 L157.25,-25.00 L157.50,-25.00 L157.75,-25.00 L158.00,-25.00 L158.25,-25.00 L158.50,-25.00 L158.75,-25.00 L159.00,-25.00 L159.25,-25.00 L159.50,-25.00 L159.75,-25.00 L160.00,-25.00 L160.25,-25.00 L160.50,-25.00 L160.75,-25.00 L161.00,-25.00 L161.25,-25.00 L161.50,-25.00 L161.75,-25.00 L162.00,-25.00 L162.25,-25.00 L162.50,-25.00 L162.75,-25.00 L163.00,-25.00 L163.25,-25.00 L163.50,-25.00 L163.75,-25.00 L164.00,-25.00 L164.25,-25.00 L164.50,-25.00 L164.75,-25.00 L165.00,-25.00 L165.25,-25.00 L165.50,-25.00 L165.75,-25.00 L166.00,-25.00 L166.25,-25.00 L166.50,-24.96 L166.75,-24.51 L167.00,-23.61 L167.25,-22.32 L167.50,-20.67 L167.75,-18.72 L168.00,-16.53 L168.25,-14.13 L168.50,-11.59 L168.75,-8.95 L169.00,-6.27 L169.25,-3.59 L169.50,-0.96 L169.75,1.57 L170.00,3.93 L170.25,6.10 L170.50,8.09 L170.75,10.08 L171.00,12.07 L171.25,14.06 L171.50,16.04 L171.75,18.02 L172.00,19.99 L172.25,21.96 L172.50,23.92 L172.75,25.88 L173.00,27.83 L173.25,29.77 L173.50,31.70 L173.75,33.62 L174.00,35.53 L174.25,37.46 L174.50,39.40 L174.75,41.34 L175.00,43.29 L175.25,45.23 L175.50,47.16 L175.75,49.09 L176.00,51.00 L176.25,52.89 L176.50,54.76 L176.75,56.61 L177.00,58.43 L177.25,60.22 L177.50,61.97 L177.75,63.68 L178.00,65.35 L178.25,66.98 L178.50,68.61 L178.75,70.24 L179.00,71.87 L179.25,73.49 L179.50,75.11 L179.75,76.71 L180.00,78.30 L180.25,79.87 L180.50,81.42 L180.75,82.95 L181.00,84.45 L181.25,85.91 L181.50,87.35 L181.75,88.74 L182.00,90.10 L182.25,91.41 L182.50,92.68 L182.75,93.89 L183.00,95.05 L183.25,96.16 L183.50,97.21 L183.75,98.19 L184.00,99.12 L184.25,99.99 L184.50,100.81 L184.75,101.60 L185.00,102.35 L185.25,103.08 L185.50,103.78 L185.75,104.48 L186.00,105.17 L186.25,105.86 L186.50,106.55 L186.75,107.23 L187.00,107.90 L187.25,108.55 L187.50,109.19 L187.75,109.83 L188.00,110.45 L188.25,111.07 L188.50,111.68 L188.75,112.29 L189.00,112.90 L189.25,113.50 L189.50,114.10 L189.75,114.71 L190.00,115.33 L190.25,115.95 L190.50,116.58 L190.75,117.20 L191.00,117.80 L191.25,118.38 L191.50,118.94 L191.75,119.46 L192.00,119.94 L192.25,120.38 L192.50,120.80 L192.75,121.21 L193.00,121.60 L193.25,121.99 L193.50,122.36 L193.75,122.72 L194.00,123.07 L194.25,123.40 L194.50,123.73 L194.75,124.04 L195.00,124.35 L195.25,124.64 L195.50,124.91 L195.75,125.18 L196.00,125.43 L196.25,125.67 L196.50,125.90 L196.75,126.12 L197.00,126.34 L197.25,126.56 L197.50,126.77 L197.75,126.98 L198.00,127.18 L198.25,127.38 L198.50,127.57 L198.75,127.75 L199.00,127.93 L199.25,128.10 L199.50,128.26 L199.75,128.41 L200.00,128.55 L200.25,128.68 L200.50,128.80 L200.75,128.91 L201.00,129.00 L201.25,129.09 L201.50,129.16 L201.75,129.23 L202.00,129.30 L202.25,129.37 L202.50,129.43 L202.75,129.50 L203.00,129.56 L203.25,129.62 L203.50,129.67 L203.75,129.73 L204.00,129.78 L204.25,129.82 L204.50,129.86 L204.75,129.90 L205.00,129.93 L205.25,129.95 L205.50,129.97 L205.75,129.99 L206.00,130.00 L206.25,130.00 L206.50,130.00 L206.75,130.00 L207.00,130.00 L207.25,130.00 L207.50,129.99 L207.75,129.99 L208.00,129.99 L208.25,129.98 L208.50,129.98 L208.75,129.98 L209.00,129.97 L209.25,129.97 L209.50,129.96 L209.75,129.96 L210.00,129.95 L210.25,129.95 L210.50,129.94 L210.75,129.93 L211.00,129.93 L211.25,129.92 L211.50,129.91 L211.75,129.91 L212.00,129.90 L212.25,129.89 L212.50,129.89 L212.75,129.88 L213.00,129.87 L213.25,129.87 L213.50,129.86 L213.75,129.85 L214.00,129.85 L214.25,129.84 L214.50,129.83 L214.75,129.83 L215.00,129.82 L215.25,129.82 L215.50,129.81 L215.75,129.81 L216.00,129.80 L216.25,129.80 L216.50,129.79 L216.75,129.79 L217.00,129.78 L217.25,129.78 L217.50,129.77 L217.75,129.77 L218.00,129.76 L218.25,129.76 L218.50,129.75 L218.75,129.75 L219.00,129.74 L219.25,129.74 L219.50,129.73 L219.75,129.73 L220.00,129.72 L220.25,129.72 L220.50,129.71 L220.75,129.71 L221.00,129.70 L221.25,129.70 L221.50,129.70 L221.75,129.69 L222.00,129.69 L222.25,129.68 L222.50,129.68 L222.75,129.67 L223.00,129.67 L223.25,129.66 L223.50,129.66 L223.75,129.65 L224.00,129.65 L224.25,129.64 L224.50,129.64 L224.75,129.64 L225.00,129.63 L225.25,129.63 L225.50,129.62 L225.75,129.62 L226.00,129.61 L226.25,129.61 L226.50,129.60 L226.75,129.60 L227.00,129.59 L227.25,129.59 L227.50,129.58 L227.75,129.58 L228.00,129.57 L228.25,129.57 L228.50,129.56 L228.75,129.56 L229.00,129.55 L229.25,129.55 L229.50,129.54 L229.75,129.54 L230.00,129.53 L230.25,129.53 L230.50,129.52 L230.75,129.51 L231.00,129.51 L231.25,129.50 L231.50,129.50 L231.75,129.49 L232.00,129.49 L232.25,129.48 L232.50,129.48 L232.75,129.47 L233.00,129.46 L233.25,129.46 L233.50,129.45 L233.75,129.45 L234.00,129.44 L234.25,129.44 L234.50,129.43 L234.75,129.43 L235.00,129.42 L235.25,129.42 L235.50,129.41 L235.75,129.41 L236.00,129.40 L236.25,129.39 L236.50,129.39 L236.75,129.38 L237.00,129.38 L237.25,129.37 L237.50,129.37 L237.75,129.36 L238.00,129.36 L238.25,129.35 L238.50,129.35 L238.75,129.34 L239.00,129.33 L239.25,129.33 L239.50,129.32 L239.75,129.32 L240.00,129.31 L240.25,129.30 L240.50,129.30 L240.75,129.29 L241.00,129.29 L241.25,129.28 L241.50,129.27 L241.75,129.27 L242.00,129.26 L242.25,129.25 L242.50,129.25 L242.75,129.24 L243.00,129.23 L243.25,129.23 L243.50,129.22 L243.75,129.21 L244.00,129.21 L244.25,129.20 L244.50,129.19 L244.75,129.18 L245.00,129.18 L245.25,129.17 L245.50,129.16 L245.75,129.15 L246.00,129.15 L246.25,129.14 L246.50,129.13 L246.75,129.12 L247.00,129.11 L247.25,129.10 L247.50,129.10 L247.75,129.09 L248.00,129.08 L248.25,129.07 L248.50,129.06 L248.75,129.05 L249.00,129.04 L249.25,129.03 L249.50,129.02 L249.75,129.01 L250.00,129.00 L250.25,128.99 L250.50,128.98 L250.75,128.96 L251.00,128.95 L251.25,128.94 L251.50,128.92 L251.75,128.90 L252.00,128.89 L252.25,128.87 L252.50,128.85 L252.75,128.83 L253.00,128.82 L253.25,128.80 L253.50,128.78 L253.75,128.76 L254.00,128.74 L254.25,128.72 L254.50,128.70 L254.75,128.69 L255.00,128.67 L255.25,128.65 L255.50,128.63 L255.75,128.62 L256.00,128.60 L256.25,128.58 L256.50,128.57 L256.75,128.55 L257.00,128.54 L257.25,128.52 L257.50,128.50 L257.75,128.49 L258.00,128.47 L258.25,128.45 L258.50,128.44 L258.75,128.42 L259.00,128.40 L259.25,128.39 L259.50,128.37 L259.75,128.35 L260.00,128.34 L260.25,128.32 L260.50,128.30 L260.75,128.28 L261.00,128.27 L261.25,128.25 L261.50,128.23 L261.75,128.22 L262.00,128.20 L262.25,128.18 L262.50,128.17 L262.75,128.15 L263.00,128.13 L263.25,128.12 L263.50,128.10 L263.75,128.09 L264.00,128.07 L264.25,128.05 L264.50,128.04 L264.75,128.02 L265.00,128.01 L265.25,127.99 L265.50,127.98 L265.75,127.96 L266.00,127.95 L266.25,127.93 L266.50,127.92 L266.75,127.90 L267.00,127.89 L267.25,127.88 L267.50,127.86 L267.75,127.85 L268.00,127.84 L268.25,127.83 L268.50,127.81 L268.75,127.80 L269.00,127.79 L269.25,127.78 L269.50,127.77 L269.75,127.76 L270.00,127.75 L270.25,127.74 L270.50,127.73 L270.75,127.72 L271.00,127.71 L271.25,127.70 L271.50,127.70 L271.75,127.69 L272.00,127.68 L272.25,127.67 L272.50,127.67 L272.75,127.66 L273.00,127.65 L273.25,127.64 L273.50,127.64 L273.75,127.63 L274.00,127.62 L274.25,127.61 L274.50,127.60 L274.75,127.60 L275.00,127.59 L275.25,127.58 L275.50,127.58 L275.75,127.57 L276.00,127.56 L276.25,127.55 L276.50,127.55 L276.75,127.54 L277.00,127.53 L277.25,127.53 L277.50,127.52 L277.75,127.51 L278.00,127.51 L278.25,127.50 L278.50,127.50 L278.75,127.49 L279.00,127.48 L279.25,127.48 L279.50,127.47 L279.75,127.47 L280.00,127.46 L280.25,127.46 L280.50,127.45 L280.75,127.45 L281.00,127.44 L281.25,127.44 L281.50,127.43 L281.75,127.43 L282.00,127.43 L282.25,127.42 L282.50,127.42 L282.75,127.42 L283.00,127.41 L283.25,127.41 L283.50,127.41 L283.75,127.41 L284.00,127.41 L284.25,127.40 L284.50,127.40 L284.75,127.40 L285.00,127.40 L285.25,127.40 L285.50,127.40 L285.75,127.40 L286.00,127.40 L286.25,127.40 L286.50,127.40 L286.75,127.40 L287.00,127.40 L287.25,127.41 L287.50,127.41 L287.75,127.41 L288.00,127.41 L288.25,127.42 L288.50,127.42 L288.75,127.42 L289.00,127.42 L289.25,127.43 L289.50,127.43 L289.75,127.44 L290.00,127.44 L290.25,127.44 L290.50,127.45 L290.75,127.45 L291.00,127.46 L291.25,127.46 L291.50,127.47 L291.75,127.47 L292.00,127.48 L292.25,127.48 L292.50,127.49 L292.75,127.50 L293.00,127.50 L293.25,127.51 L293.50,127.52 L293.75,127.52 L294.00,127.53 L294.25,127.53 L294.50,127.54 L294.75,127.55 L295.00,127.56 L295.25,127.56 L295.50,127.57 L295.75,127.58 L296.00,127.58 L296.25,127.59 L296.50,127.60 L296.75,127.61 L297.00,127.61 L297.25,127.62 L297.50,127.63 L297.75,127.64 L298.00,127.64 L298.25,127.65 L298.50,127.66 L298.75,127.67 L299.00,127.68 L299.25,127.68 L299.50,127.69 L299.75,127.70 L300.00,127.71 L300.25,127.71 L300.50,127.72 L300.75,127.73 L301.00,127.74 L301.25,127.75 L301.50,127.76 L301.75,127.77 L302.00,127.78 L302.25,127.79 L302.50,127.81 L302.75,127.82 L303.00,127.83 L303.25,127.84 L303.50,127.85 L303.75,127.87 L304.00,127.88 L304.25,127.89 L304.50,127.91 L304.75,127.92 L305.00,127.94 L305.25,127.95 L305.50,127.96 L305.75,127.98 L306.00,127.99 L306.25,128.01 L306.50,128.03 L306.75,128.04 L307.00,128.06 L307.25,128.07 L307.50,128.09 L307.75,128.10 L308.00,128.12 L308.25,128.14 L308.50,128.15 L308.75,128.17 L309.00,128.19 L309.25,128.20 L309.50,128.22 L309.75,128.24 L310.00,128.25 L310.25,128.27 L310.50,128.29 L310.75,128.30 L311.00,128.32 L311.25,128.34 L311.50,128.36 L311.75,128.37 L312.00,128.39 L312.25,128.41 L312.50,128.42 L312.75,128.44 L313.00,128.46 L313.25,128.47 L313.50,128.49 L313.75,128.51 L314.00,128.52 L314.25,128.54 L314.50,128.56 L314.75,128.57 L315.00,128.59 L315.25,128.60 L315.50,128.62 L315.75,128.64 L316.00,128.65 L316.25,128.67 L316.50,128.69 L316.75,128.71 L317.00,128.73 L317.25,128.75 L317.50,128.76 L317.75,128.78 L318.00,128.80 L318.25,128.82 L318.50,128.84 L318.75,128.86 L319.00,128.87 L319.25,128.89 L319.50,128.91 L319.75,128.92 L320.00,128.94 L320.25,128.95 L320.50,128.97 L320.75,128.98 L321.00,128.99 L321.25,129.00 L321.50,129.01 L321.75,129.02 L322.00,129.03 L322.25,129.04 L322.50,129.05 L322.75,129.06 L323.00,129.07 L323.25,129.08 L323.50,129.09 L323.75,129.10 L324.00,129.11 L324.25,129.11 L324.50,129.12 L324.75,129.13 L325.00,129.14 L325.25,129.15 L325.50,129.16 L325.75,129.16 L326.00,129.17 L326.25,129.18 L326.50,129.19 L326.75,129.19 L327.00,129.20 L327.25,129.21 L327.50,129.22 L327.75,129.22 L328.00,129.23 L328.25,129.24 L328.50,129.24 L328.75,129.25 L329.00,129.26 L329.25,129.26 L329.50,129.27 L329.75,129.28 L330.00,129.28 L330.25,129.29 L330.50,129.29 L330.75,129.30 L331.00,129.31 L331.25,129.31 L331.50,129.32 L331.75,129.32 L332.00,129.33 L332.25,129.34 L332.50,129.34 L332.75,129.35 L333.00,129.35 L333.25,129.36 L333.50,129.36 L333.75,129.37 L334.00,129.37 L334.25,129.38 L334.50,129.39 L334.75,129.39 L335.00,129.40 L335.25,129.40 L335.50,129.41 L335.75,129.41 L336.00,129.42 L336.25,129.42 L336.50,129.43 L336.75,129.43 L337.00,129.44 L337.25,129.44 L337.50,129.45 L337.75,129.45 L338.00,129.46 L338.25,129.47 L338.50,129.47 L338.75,129.48 L339.00,129.48 L339.25,129.49 L339.50,129.49 L339.75,129.50 L340.00,129.50 L340.25,129.51 L340.50,129.52 L340.75,129.52 L341.00,129.53 L341.25,129.53 L341.50,129.54 L341.75,129.54 L342.00,129.55 L342.25,129.55 L342.50,129.56 L342.75,129.56 L343.00,129.57 L343.25,129.57 L343.50,129.58 L343.75,129.58 L344.00,129.59 L344.25,129.59 L344.50,129.60 L344.75,129.60 L345.00,129.61 L345.25,129.61 L345.50,129.62 L345.75,129.62 L346.00,129.63 L346.25,129.63 L346.50,129.64 L346.75,129.64 L347.00,129.65 L347.25,129.65 L347.50,129.65 L347.75,129.66 L348.00,129.66 L348.25,129.67 L348.50,129.67 L348.75,129.68 L349.00,129.68 L349.25,129.69 L349.50,129.69 L349.75,129.70 L350.00,129.70 L350.25,129.71 L350.50,129.71 L350.75,129.71 L351.00,129.72 L351.25,129.72 L351.50,129.73 L351.75,129.73 L352.00,129.74 L352.25,129.74 L352.50,129.75 L352.75,129.75 L353.00,129.76 L353.25,129.76 L353.50,129.77 L353.75,129.77 L354.00,129.78 L354.25,129.78 L354.50,129.79 L354.75,129.79 L355.00,129.80 L355.25,129.80 L355.50,129.81 L355.75,129.81 L356.00,129.82 L356.25,129.82 L356.50,129.83 L356.75,129.84 L357.00,129.84 L357.25,129.85 L357.50,129.85 L357.75,129.86 L358.00,129.87 L358.25,129.87 L358.50,129.88 L358.75,129.89 L359.00,129.90 L359.25,129.90 L359.50,129.91 L359.75,129.92 L360.00,129.92 L360.25,129.93 L360.50,129.93 L360.75,129.94 L361.00,129.95 L361.25,129.95 L361.50,129.96 L361.75,129.96 L362.00,129.97 L362.25,129.97 L362.50,129.98 L362.75,129.98 L363.00,129.98 L363.25,129.99 L363.50,129.99 L363.75,129.99 L364.00,130.00 L364.25,130.00 L364.50,130.00 L364.75,130.00 L365.00,130.00 L365.25,130.00 L365.50,129.99 L365.75,129.97 L366.00,129.95 L366.25,129.92 L366.50,129.89 L366.75,129.85 L367.00,129.81 L367.25,129.77 L367.50,129.72 L367.75,129.66 L368.00,129.61 L368.25,129.55 L368.50,129.48 L368.75,129.42 L369.00,129.35 L369.25,129.28 L369.50,129.21 L369.75,129.14 L370.00,129.07 L370.25,128.99 L370.50,128.89 L370.75,128.78 L371.00,128.66 L371.25,128.52 L371.50,128.38 L371.75,128.23 L372.00,128.07 L372.25,127.89 L372.50,127.72 L372.75,127.53 L373.00,127.34 L373.25,127.14 L373.50,126.93 L373.75,126.73 L374.00,126.51 L374.25,126.30 L374.50,126.08 L374.75,125.86 L375.00,125.62 L375.25,125.38 L375.50,125.13 L375.75,124.86 L376.00,124.58 L376.25,124.29 L376.50,123.98 L376.75,123.67 L377.00,123.34 L377.25,123.00 L377.50,122.65 L377.75,122.28 L378.00,121.91 L378.25,121.52 L378.50,121.13 L378.75,120.72 L379.00,120.30 L379.25,119.85 L379.50,119.36 L379.75,118.83 L380.00,118.27 L380.25,117.68 L380.50,117.07 L380.75,116.45 L381.00,115.83 L381.25,115.20 L381.50,114.59 L381.75,113.98 L382.00,113.38 L382.25,112.78 L382.50,112.17 L382.75,111.56 L383.00,110.95 L383.25,110.33 L383.50,109.70 L383.75,109.07 L384.00,108.42 L384.25,107.76 L384.50,107.10 L384.75,106.42 L385.00,105.72 L385.25,105.03 L385.50,104.34 L385.75,103.64 L386.00,102.93 L386.25,102.20 L386.50,101.44 L386.75,100.65 L387.00,99.82 L387.25,98.94 L387.50,98.00 L387.75,97.00 L388.00,95.94 L388.25,94.83 L388.50,93.65 L388.75,92.43 L389.00,91.15 L389.25,89.83 L389.50,88.47 L389.75,87.06 L390.00,85.62 L390.25,84.15 L390.50,82.64 L390.75,81.11 L391.00,79.56 L391.25,77.98 L391.50,76.39 L391.75,74.79 L392.00,73.17 L392.25,71.54 L392.50,69.91 L392.75,68.28 L393.00,66.65 L393.25,65.02 L393.50,63.34 L393.75,61.62 L394.00,59.86 L394.25,58.07 L394.50,56.24 L394.75,54.39 L395.00,52.51 L395.25,50.62 L395.50,48.70 L395.75,46.78 L396.00,44.84 L396.25,42.90 L396.50,40.96 L396.75,39.01 L397.00,37.08 L397.25,35.15 L397.50,33.23 L397.75,31.31 L398.00,29.38 L398.25,27.44 L398.50,25.49 L398.75,23.53 L399.00,21.57 L399.25,19.60 L399.50,17.62 L399.75,15.64 L400.00,13.66 L400.25,11.67 L400.50,9.68 L400.75,7.69 L401.00,5.68 L401.25,3.48 L401.50,1.07 L401.75,-1.48 L402.00,-4.12 L402.25,-6.81 L402.50,-9.49 L402.75,-12.11 L403.00,-14.63 L403.25,-16.98 L403.50,-19.13 L403.75,-21.02 L404.00,-22.61 L404.25,-23.83 L404.50,-24.64 L404.75,-24.99 L405.00,-25.00 L405.25,-25.00 L405.50,-25.00 L405.75,-25.00 L406.00,-25.00 L406.25,-25.00 L406.50,-25.00 L406.75,-25.00 L407.00,-25.00 L407.25,-25.00 L407.50,-25.00 L407.75,-25.00 L408.00,-25.00 L408.25,-25.00 L408.50,-25.00 L408.75,-25.00 L409.00,-25.00 L409.25,-25.00 L409.50,-25.00 L409.75,-25.00 L410.00,-25.00 L410.25,-25.00 L410.50,-25.00 L410.75,-25.00 L411.00,-25.00 L411.25,-25.00 L411.50,-25.00 L411.75,-25.00 L412.00,-25.00 L412.25,-25.00 L412.50,-25.00 L412.75,-25.00 L413.00,-25.00 L413.25,-25.00 L413.50,-25.00 L413.75,-25.00 L414.00,-25.00 L414.25,-25.00 L414.50,-25.00 L414.75,-25.00 L415.00,-25.00 L415.25,-25.00 L415.50,-25.00 L415.75,-25.00 L416.00,-25.00 L416.25,-25.00 L416.50,-25.00 L416.75,-25.00 L417.00,-25.00 L417.25,-25.00 L417.50,-25.00 L417.75,-25.00 L418.00,-25.00 L418.25,-25.00 L418.50,-25.00 L418.75,-25.00 L419.00,-25.00 L419.25,-25.00 L419.50,-25.00 L419.75,-25.00 L420.00,-25.00 L420.25,-25.00 L420.50,-25.00 L420.75,-25.00 L421.00,-25.00 L421.25,-25.00 L421.50,-25.00 L421.75,-25.00 L422.00,-25.00 L422.25,-25.00 L422.50,-25.00 L422.60,-25.00" stroke="#ff0000" stroke-dasharray="5.8 2.35"/>
<path d="M57.50,-25.00 L57.75,-25.00 L58.00,-25.00 L58.25,-25.00 L58.50,-25.00 L58.75,-25.00 L59.00,-25.00 L59.25,-25.00 L59.50,-25.00 L59.75,-25.00 L60.00,-25.00 L60.25,-25.00 L60.50,-25.00 L60.75,-25.00 L61.00,-25.00 L61.25,-25.00 L61.50,-25.00 L61.75,-25.00 L62.00,-25.00 L62.25,-25.00 L62.50,-25.00 L62.75,-25.00 L63.00,-25.00 L63.25,-25.00 L63.50,-25.00 L63.75,-25.00 L64.00,-25.00 L64.25,-25.00 L64.50,-25.00 L64.75,-25.00 L65.00,-25.00 L65.25,-25.00 L65.50,-25.00 L65.75,-25.00 L66.00,-25.00 L66.25,-25.00 L66.50,-25.00 L66.75,-25.00 L67.00,-25.00 L67.25,-25.00 L67.50,-25.00 L67.75,-25.00 L68.00,-25.00 L68.25,-25.00 L68.50,-25.00 L68.75,-25.00 L69.00,-25.00 L69.25,-24.65 L69.50,-23.65 L69.75,-22.08 L70.00,-20.04 L70.25,-17.60 L70.50,-14.85 L70.75,-11.87 L71.00,-8.75 L71.25,-5.57 L71.50,-2.42 L71.75,0.62 L72.00,3.46 L72.25,6.03 L72.50,8.35 L72.75,10.62 L73.00,12.87 L73.25,15.08 L73.50,17.28 L73.75,19.47 L74.00,21.64 L74.25,23.82 L74.50,25.99 L74.75,28.17 L75.00,30.36 L75.25,32.58 L75.50,34.81 L75.75,37.07 L76.00,39.37 L76.25,41.70 L76.50,44.08 L76.75,46.52 L77.00,49.00 L77.25,51.54 L77.50,54.13 L77.75,56.77 L78.00,59.45 L78.25,62.17 L78.50,64.93 L78.75,67.71 L79.00,70.52 L79.25,73.36 L79.50,76.21 L79.75,79.07 L80.00,81.94 L80.25,84.82 L80.50,87.70 L80.75,90.58 L81.00,93.53 L81.25,96.59 L81.50,99.73 L81.75,102.92 L82.00,106.14 L82.25,109.37 L82.50,112.59 L82.75,115.77 L83.00,118.90 L83.25,121.95 L83.50,124.89 L83.75,127.71 L84.00,130.39 L84.25,132.89 L84.50,135.20 L84.75,137.38 L85.00,139.43 L85.25,141.39 L85.50,143.27 L85.75,145.10 L86.00,146.88 L86.25,148.64 L86.50,150.41 L86.75,152.19 L87.00,154.00 L87.25,155.85 L87.50,157.72 L87.75,159.60 L88.00,161.50 L88.25,163.39 L88.50,165.29 L88.75,167.17 L89.00,169.05 L89.25,170.91 L89.50,172.74 L89.75,174.55 L90.00,176.33 L90.25,178.06 L90.50,179.76 L90.75,181.40 L91.00,183.00 L91.25,184.53 L91.50,186.00 L91.75,187.42 L92.00,188.80 L92.25,190.15 L92.50,191.44 L92.75,192.68 L93.00,193.85 L93.25,194.96 L93.50,196.00 L93.75,196.98 L94.00,197.92 L94.25,198.81 L94.50,199.66 L94.75,200.45 L95.00,201.19 L95.25,201.87 L95.50,202.49 L95.75,203.07 L96.00,203.61 L96.25,204.12 L96.50,204.60 L96.75,205.07 L97.00,205.53 L97.25,205.98 L97.50,206.44 L97.75,206.91 L98.00,207.40 L98.25,207.93 L98.50,208.47 L98.75,208.93 L99.00,209.27 L99.25,209.57 L99.50,209.86 L99.75,210.12 L100.00,210.36 L100.25,210.58 L100.50,210.80 L100.75,211.00 L101.00,211.20 L101.25,211.40 L101.50,211.60 L101.75,211.80 L102.00,212.01 L102.25,212.25 L102.50,212.52 L102.75,212.77 L103.00,212.90 L103.25,212.84 L103.50,212.63 L103.75,212.36 L104.00,212.10 L104.25,211.89 L104.50,211.68 L104.75,211.48 L105.00,211.28 L105.25,211.08 L105.50,210.88 L105.75,210.67 L106.00,210.45 L106.25,210.21 L106.50,209.96 L106.75,209.69 L107.00,209.39 L107.25,209.07 L107.50,208.67 L107.75,208.15 L108.00,207.61 L108.25,207.10 L108.50,206.63 L108.75,206.16 L109.00,205.71 L109.25,205.25 L109.50,204.79 L109.75,204.31 L110.00,203.81 L110.25,203.29 L110.50,202.73 L110.75,202.13 L111.00,201.47 L111.25,200.76 L111.50,199.98 L111.75,199.16 L112.00,198.28 L112.25,197.36 L112.50,196.40 L112.75,195.39 L113.00,194.31 L113.25,193.16 L113.50,191.94 L113.75,190.67 L114.00,189.35 L114.25,187.98 L114.50,186.57 L114.75,185.13 L115.00,183.62 L115.25,182.05 L115.50,180.42 L115.75,178.75 L116.00,177.03 L116.25,175.27 L116.50,173.47 L116.75,171.65 L117.00,169.80 L117.25,167.93 L117.50,166.04 L117.75,164.15 L118.00,162.25 L118.25,160.36 L118.50,158.47 L118.75,156.60 L119.00,154.74 L119.25,152.91 L119.50,151.11 L119.75,149.35 L120.00,147.59 L120.25,145.81 L120.50,144.01 L120.75,142.15 L121.00,140.23 L121.25,138.21 L121.50,136.09 L121.75,133.84 L122.00,131.41 L122.25,128.80 L122.50,126.04 L122.75,123.14 L123.00,120.13 L123.25,117.03 L123.50,113.87 L123.75,110.66 L124.00,107.43 L124.25,104.20 L124.50,101.00 L124.75,97.84 L125.00,94.75 L125.25,91.75 L125.50,88.85 L125.75,85.97 L126.00,83.09 L126.25,80.22 L126.50,77.35 L126.75,74.49 L127.00,71.65 L127.25,68.83 L127.50,66.04 L127.75,63.27 L128.00,60.54 L128.25,57.84 L128.50,55.18 L128.75,52.57 L129.00,50.01 L129.25,47.50 L129.50,45.05 L129.75,42.65 L130.00,40.30 L130.25,37.99 L130.50,35.71 L130.75,33.47 L131.00,31.25 L131.25,29.05 L131.50,26.86 L131.75,24.69 L132.00,22.51 L132.25,20.34 L132.50,18.16 L132.75,15.97 L133.00,13.76 L133.25,11.52 L133.50,9.26 L133.75,6.96 L134.00,4.53 L134.25,1.78 L134.50,-1.19 L134.75,-4.30 L135.00,-7.48 L135.25,-10.63 L135.50,-13.68 L135.75,-16.53 L136.00,-19.10 L136.25,-21.32 L136.50,-23.08 L136.75,-24.32 L137.00,-24.94 L137.25,-25.00 L137.50,-25.00 L137.75,-25.00 L138.00,-25.00 L138.25,-25.00 L138.50,-25.00 L138.75,-25.00 L139.00,-25.00 L139.25,-25.00 L139.50,-25.00 L139.75,-25.00 L140.00,-25.00 L140.25,-25.00 L140.50,-25.00 L140.75,-25.00 L141.00,-25.00 L141.25,-25.00 L141.50,-25.00 L141.75,-25.00 L142.00,-25.00 L142.25,-25.00 L142.50,-25.00 L142.75,-25.00 L143.00,-25.00 L143.25,-25.00 L143.50,-25.00 L143.75,-25.00 L144.00,-25.00 L144.25,-25.00 L144.50,-25.00 L144.75,-25.00 L145.00,-25.00 L145.25,-25.00 L145.50,-25.00 L145.75,-25.00 L146.00,-25.00 L146.25,-25.00 L146.50,-25.00 L146.75,-25.00 L147.00,-25.00 L147.25,-25.00 L147.50,-25.00 L147.75,-25.00 L148.00,-25.00 L148.25,-25.00 L148.50,-25.00 L148.75,-25.00 L149.00,-25.00 L149.25,-25.00 L149.50,-25.00 L149.75,-25.00 L150.00,-25.00 L150.25,-25.00 L150.50,-25.00 L150.75,-25.00 L151.00,-25.00 L151.25,-25.00 L151.50,-25.00 L151.75,-25.00 L152.00,-25.00 L152.25,-25.00 L152.50,-25.00 L152.75,-25.00 L153.00,-25.00 L153.25,-25.00 L153.50,-25.00 L153.75,-25.00 L154.00,-25.00 L154.25,-25.00 L154.50,-25.00 L154.75,-25.00 L155.00,-25.00 L155.25,-25.00 L155.50,-25.00 L155.75,-25.00 L156.00,-25.00 L156.25,-25.00 L156.50,-25.00 L156.75,-25.00 L157.00,-25.00 L157.25,-25.00 L157.50,-25.00 L157.75,-25.00 L158.00,-25.00 L158.25,-25.00 L158.50,-25.00 L158.75,-25.00 L159.00,-25.00 L159.25,-25.00 L159.50,-25.00 L159.75,-25.00 L160.00,-25.00 L160.25,-25.00 L160.50,-25.00 L160.75,-25.00 L161.00,-25.00 L161.25,-25.00 L161.50,-25.00 L161.75,-25.00 L162.00,-25.00 L162.25,-25.00 L162.50,-25.00 L162.75,-24.80 L163.00,-24.22 L163.25,-23.29 L163.50,-22.06 L163.75,-20.56 L164.00,-18.82 L164.25,-16.87 L164.50,-14.77 L164.75,-12.53 L165.00,-10.20 L165.25,-7.81 L165.50,-5.40 L165.75,-3.00 L166.00,-0.65 L166.25,1.62 L166.50,3.76 L166.75,5.76 L167.00,7.59 L167.25,9.42 L167.50,11.26 L167.75,13.10 L168.00,14.94 L168.25,16.79 L168.50,18.64 L168.75,20.48 L169.00,22.33 L169.25,24.17 L169.50,26.00 L169.75,27.84 L170.00,29.66 L170.25,31.47 L170.50,33.28 L170.75,35.08 L171.00,36.89 L171.25,38.72 L171.50,40.55 L171.75,42.39 L172.00,44.23 L172.25,46.07 L172.50,47.90 L172.75,49.72 L173.00,51.53 L173.25,53.32 L173.50,55.09 L173.75,56.84 L174.00,58.56 L174.25,60.24 L174.50,61.90 L174.75,63.51 L175.00,65.08 L175.25,66.61 L175.50,68.11 L175.75,69.59 L176.00,71.06 L176.25,72.51 L176.50,73.95 L176.75,75.36 L177.00,76.76 L177.25,78.14 L177.50,79.51 L177.75,80.86 L178.00,82.19 L178.25,83.51 L178.50,84.82 L178.75,86.11 L179.00,87.38 L179.25,88.64 L179.50,89.89 L179.75,91.12 L180.00,92.34 L180.25,93.54 L180.50,94.73 L180.75,95.91 L181.00,97.08 L181.25,98.23 L181.50,99.37 L181.75,100.50 L182.00,101.60 L182.25,102.68 L182.50,103.71 L182.75,104.70 L183.00,105.64 L183.25,106.52 L183.50,107.38 L183.75,108.20 L184.00,108.99 L184.25,109.76 L184.50,110.51 L184.75,111.23 L185.00,111.94 L185.25,112.63 L185.50,113.31 L185.75,113.97 L186.00,114.62 L186.25,115.27 L186.50,115.90 L186.75,116.53 L187.00,117.14 L187.25,117.74 L187.50,118.33 L187.75,118.90 L188.00,119.45 L188.25,119.99 L188.50,120.52 L188.75,121.02 L189.00,121.50 L189.25,121.96 L189.50,122.41 L189.75,122.85 L190.00,123.27 L190.25,123.68 L190.50,124.08 L190.75,124.47 L191.00,124.85 L191.25,125.23 L191.50,125.59 L191.75,125.96 L192.00,126.32 L192.25,126.67 L192.50,127.03 L192.75,127.39 L193.00,127.74 L193.25,128.09 L193.50,128.41 L193.75,128.72 L194.00,129.00 L194.25,129.25 L194.50,129.48 L194.75,129.69 L195.00,129.90 L195.25,130.09 L195.50,130.27 L195.75,130.45 L196.00,130.61 L196.25,130.76 L196.50,130.90 L196.75,131.04 L197.00,131.17 L197.25,131.30 L197.50,131.43 L197.75,131.56 L198.00,131.68 L198.25,131.80 L198.50,131.92 L198.75,132.03 L199.00,132.14 L199.25,132.25 L199.50,132.35 L199.75,132.45 L200.00,132.55 L200.25,132.64 L200.50,132.72 L200.75,132.80 L201.00,132.88 L201.25,132.95 L201.50,133.01 L201.75,133.07 L202.00,133.12 L202.25,133.17 L202.50,133.22 L202.75,133.28 L203.00,133.33 L203.25,133.38 L203.50,133.42 L203.75,133.47 L204.00,133.51 L204.25,133.55 L204.50,133.58 L204.75,133.61 L205.00,133.64 L205.25,133.66 L205.50,133.68 L205.75,133.69 L206.00,133.70 L206.25,133.70 L206.50,133.70 L206.75,133.70 L207.00,133.70 L207.25,133.69 L207.50,133.69 L207.75,133.69 L208.00,133.69 L208.25,133.68 L208.50,133.68 L208.75,133.67 L209.00,133.67 L209.25,133.67 L209.50,133.66 L209.75,133.66 L210.00,133.65 L210.25,133.64 L210.50,133.64 L210.75,133.63 L211.00,133.63 L211.25,133.62 L211.50,133.61 L211.75,133.61 L212.00,133.60 L212.25,133.59 L212.50,133.59 L212.75,133.58 L213.00,133.57 L213.25,133.57 L213.50,133.56 L213.75,133.55 L214.00,133.55 L214.25,133.54 L214.50,133.53 L214.75,133.53 L215.00,133.52 L215.25,133.52 L215.50,133.51 L215.75,133.51 L216.00,133.50 L216.25,133.49 L216.50,133.49 L216.75,133.48 L217.00,133.48 L217.25,133.47 L217.50,133.47 L217.75,133.46 L218.00,133.46 L218.25,133.45 L218.50,133.45 L218.75,133.44 L219.00,133.44 L219.25,133.43 L219.50,133.42 L219.75,133.42 L220.00,133.41 L220.25,133.41 L220.50,133.40 L220.75,133.40 L221.00,133.39 L221.25,133.38 L221.50,133.38 L221.75,133.37 L222.00,133.37 L222.25,133.36 L222.50,133.36 L222.75,133.35 L223.00,133.34 L223.25,133.34 L223.50,133.33 L223.75,133.33 L224.00,133.32 L224.25,133.32 L224.50,133.31 L224.75,133.31 L225.00,133.30 L225.25,133.30 L225.50,133.29 L225.75,133.28 L226.00,133.28 L226.25,133.28 L226.50,133.27 L226.75,133.27 L227.00,133.26 L227.25,133.26 L227.50,133.25 L227.75,133.25 L228.00,133.24 L228.25,133.24 L228.50,133.24 L228.75,133.23 L229.00,133.23 L229.25,133.22 L229.50,133.22 L229.75,133.22 L230.00,133.21 L230.25,133.21 L230.50,133.21 L230.75,133.21 L231.00,133.20 L231.25,133.20 L231.50,133.20 L231.75,133.20 L232.00,133.20 L232.25,133.19 L232.50,133.19 L232.75,133.19 L233.00,133.19 L233.25,133.19 L233.50,133.18 L233.75,133.18 L234.00,133.18 L234.25,133.18 L234.50,133.18 L234.75,133.18 L235.00,133.18 L235.25,133.18 L235.50,133.17 L235.75,133.17 L236.00,133.17 L236.25,133.17 L236.50,133.17 L236.75,133.17 L237.00,133.17 L237.25,133.17 L237.50,133.17 L237.75,133.16 L238.00,133.16 L238.25,133.16 L238.50,133.16 L238.75,133.16 L239.00,133.16 L239.25,133.16 L239.50,133.16 L239.75,133.16 L240.00,133.16 L240.25,133.16 L240.50,133.16 L240.75,133.16 L241.00,133.15 L241.25,133.15 L241.50,133.15 L241.75,133.15 L242.00,133.15 L242.25,133.15 L242.50,133.15 L242.75,133.15 L243.00,133.15 L243.25,133.15 L243.50,133.15 L243.75,133.14 L244.00,133.14 L244.25,133.14 L244.50,133.14 L244.75,133.14 L245.00,133.14 L245.25,133.14 L245.50,133.14 L245.75,133.13 L246.00,133.13 L246.25,133.13 L246.50,133.13 L246.75,133.13 L247.00,133.13 L247.25,133.12 L247.50,133.12 L247.75,133.12 L248.00,133.12 L248.25,133.12 L248.50,133.11 L248.75,133.11 L249.00,133.11 L249.25,133.11 L249.50,133.11 L249.75,133.10 L250.00,133.10 L250.25,133.10 L250.50,133.09 L250.75,133.09 L251.00,133.08 L251.25,133.07 L251.50,133.06 L251.75,133.05 L252.00,133.04 L252.25,133.02 L252.50,133.01 L252.75,133.00 L253.00,132.98 L253.25,132.96 L253.50,132.95 L253.75,132.93 L254.00,132.91 L254.25,132.89 L254.50,132.87 L254.75,132.85 L255.00,132.83 L255.25,132.81 L255.50,132.78 L255.75,132.76 L256.00,132.74 L256.25,132.71 L256.50,132.69 L256.75,132.67 L257.00,132.64 L257.25,132.62 L257.50,132.60 L257.75,132.57 L258.00,132.55 L258.25,132.52 L258.50,132.50 L258.75,132.48 L259.00,132.45 L259.25,132.43 L259.50,132.41 L259.75,132.38 L260.00,132.36 L260.25,132.34 L260.50,132.32 L260.75,132.30 L261.00,132.27 L261.25,132.25 L261.50,132.23 L261.75,132.21 L262.00,132.18 L262.25,132.16 L262.50,132.13 L262.75,132.10 L263.00,132.08 L263.25,132.05 L263.50,132.02 L263.75,132.00 L264.00,131.97 L264.25,131.94 L264.50,131.91 L264.75,131.88 L265.00,131.85 L265.25,131.83 L265.50,131.80 L265.75,131.77 L266.00,131.74 L266.25,131.71 L266.50,131.69 L266.75,131.66 L267.00,131.63 L267.25,131.61 L267.50,131.58 L267.75,131.56 L268.00,131.53 L268.25,131.51 L268.50,131.49 L268.75,131.47 L269.00,131.44 L269.25,131.42 L269.50,131.41 L269.75,131.39 L270.00,131.37 L270.25,131.36 L270.50,131.34 L270.75,131.33 L271.00,131.32 L271.25,131.31 L271.50,131.30 L271.75,131.29 L272.00,131.28 L272.25,131.27 L272.50,131.26 L272.75,131.25 L273.00,131.24 L273.25,131.24 L273.50,131.23 L273.75,131.22 L274.00,131.21 L274.25,131.20 L274.50,131.20 L274.75,131.19 L275.00,131.18 L275.25,131.17 L275.50,131.17 L275.75,131.16 L276.00,131.15 L276.25,131.14 L276.50,131.14 L276.75,131.13 L277.00,131.12 L277.25,131.12 L277.50,131.11 L277.75,131.10 L278.00,131.10 L278.25,131.09 L278.50,131.09 L278.75,131.08 L279.00,131.08 L279.25,131.07 L279.50,131.07 L279.75,131.06 L280.00,131.06 L280.25,131.05 L280.50,131.05 L280.75,131.04 L281.00,131.04 L281.25,131.03 L281.50,131.03 L281.75,131.03 L282.00,131.02 L282.25,131.02 L282.50,131.02 L282.75,131.02 L283.00,131.01 L283.25,131.01 L283.50,131.01 L283.75,131.01 L284.00,131.00 L284.25,131.00 L284.50,131.00 L284.75,131.00 L285.00,131.00 L285.25,131.00 L285.50,131.00 L285.75,131.00 L286.00,131.00 L286.25,131.00 L286.50,131.00 L286.75,131.00 L287.00,131.00 L287.25,131.01 L287.50,131.01 L287.75,131.01 L288.00,131.01 L288.25,131.01 L288.50,131.02 L288.75,131.02 L289.00,131.02 L289.25,131.02 L289.50,131.03 L289.75,131.03 L290.00,131.04 L290.25,131.04 L290.50,131.04 L290.75,131.05 L291.00,131.05 L291.25,131.06 L291.50,131.06 L291.75,131.07 L292.00,131.07 L292.25,131.08 L292.50,131.08 L292.75,131.09 L293.00,131.09 L293.25,131.10 L293.50,131.11 L293.75,131.11 L294.00,131.12 L294.25,131.13 L294.50,131.13 L294.75,131.14 L295.00,131.15 L295.25,131.15 L295.50,131.16 L295.75,131.17 L296.00,131.17 L296.25,131.18 L296.50,131.19 L296.75,131.20 L297.00,131.21 L297.25,131.21 L297.50,131.22 L297.75,131.23 L298.00,131.24 L298.25,131.25 L298.50,131.25 L298.75,131.26 L299.00,131.27 L299.25,131.28 L299.50,131.29 L299.75,131.30 L300.00,131.31 L300.25,131.32 L300.50,131.33 L300.75,131.34 L301.00,131.36 L301.25,131.37 L301.50,131.39 L301.75,131.41 L302.00,131.43 L302.25,131.45 L302.50,131.47 L302.75,131.49 L303.00,131.51 L303.25,131.54 L303.50,131.56 L303.75,131.59 L304.00,131.61 L304.25,131.64 L304.50,131.67 L304.75,131.69 L305.00,131.72 L305.25,131.75 L305.50,131.78 L305.75,131.80 L306.00,131.83 L306.25,131.86 L306.50,131.89 L306.75,131.92 L307.00,131.94 L307.25,131.97 L307.50,132.00 L307.75,132.03 L308.00,132.06 L308.25,132.08 L308.50,132.11 L308.75,132.14 L309.00,132.16 L309.25,132.19 L309.50,132.21 L309.75,132.23 L310.00,132.26 L310.25,132.28 L310.50,132.30 L310.75,132.32 L311.00,132.34 L311.25,132.36 L311.50,132.39 L311.75,132.41 L312.00,132.43 L312.25,132.46 L312.50,132.48 L312.75,132.50 L313.00,132.53 L313.25,132.55 L313.50,132.58 L313.75,132.60 L314.00,132.62 L314.25,132.65 L314.50,132.67 L314.75,132.70 L315.00,132.72 L315.25,132.74 L315.50,132.77 L315.75,132.79 L316.00,132.81 L316.25,132.83 L316.50,132.85 L316.75,132.87 L317.00,132.89 L317.25,132.91 L317.50,132.93 L317.75,132.95 L318.00,132.97 L318.25,132.98 L318.50,133.00 L318.75,133.01 L319.00,133.03 L319.25,133.04 L319.50,133.05 L319.75,133.06 L320.00,133.07 L320.25,133.08 L320.50,133.09 L320.75,133.09 L321.00,133.10 L321.25,133.10 L321.50,133.10 L321.75,133.11 L322.00,133.11 L322.25,133.11 L322.50,133.11 L322.75,133.12 L323.00,133.12 L323.25,133.12 L323.50,133.12 L323.75,133.12 L324.00,133.13 L324.25,133.13 L324.50,133.13 L324.75,133.13 L325.00,133.13 L325.25,133.13 L325.50,133.13 L325.75,133.14 L326.00,133.14 L326.25,133.14 L326.50,133.14 L326.75,133.14 L327.00,133.14 L327.25,133.14 L327.50,133.14 L327.75,133.15 L328.00,133.15 L328.25,133.15 L328.50,133.15 L328.75,133.15 L329.00,133.15 L329.25,133.15 L329.50,133.15 L329.75,133.15 L330.00,133.15 L330.25,133.15 L330.50,133.16 L330.75,133.16 L331.00,133.16 L331.25,133.16 L331.50,133.16 L331.75,133.16 L332.00,133.16 L332.25,133.16 L332.50,133.16 L332.75,133.16 L333.00,133.16 L333.25,133.16 L333.50,133.17 L333.75,133.17 L334.00,133.17 L334.25,133.17 L334.50,133.17 L334.75,133.17 L335.00,133.17 L335.25,133.17 L335.50,133.17 L335.75,133.17 L336.00,133.18 L336.25,133.18 L336.50,133.18 L336.75,133.18 L337.00,133.18 L337.25,133.18 L337.50,133.18 L337.75,133.18 L338.00,133.19 L338.25,133.19 L338.50,133.19 L338.75,133.19 L339.00,133.19 L339.25,133.20 L339.50,133.20 L339.75,133.20 L340.00,133.20 L340.25,133.20 L340.50,133.21 L340.75,133.21 L341.00,133.21 L341.25,133.22 L341.50,133.22 L341.75,133.22 L342.00,133.23 L342.25,133.23 L342.50,133.23 L342.75,133.24 L343.00,133.24 L343.25,133.24 L343.50,133.25 L343.75,133.25 L344.00,133.26 L344.25,133.26 L344.50,133.27 L344.75,133.27 L345.00,133.28 L345.25,133.28 L345.50,133.29 L345.75,133.29 L346.00,133.30 L346.25,133.30 L346.50,133.31 L346.75,133.31 L347.00,133.32 L347.25,133.32 L347.50,133.33 L347.75,133.33 L348.00,133.34 L348.25,133.35 L348.50,133.35 L348.75,133.36 L349.00,133.36 L349.25,133.37 L349.50,133.37 L349.75,133.38 L350.00,133.39 L350.25,133.39 L350.50,133.40 L350.75,133.40 L351.00,133.41 L351.25,133.41 L351.50,133.42 L351.75,133.43 L352.00,133.43 L352.25,133.44 L352.50,133.44 L352.75,133.45 L353.00,133.45 L353.25,133.46 L353.50,133.46 L353.75,133.47 L354.00,133.48 L354.25,133.48 L354.50,133.49 L354.75,133.49 L355.00,133.50 L355.25,133.50 L355.50,133.51 L355.75,133.51 L356.00,133.52 L356.25,133.52 L356.50,133.53 L356.75,133.54 L357.00,133.54 L357.25,133.55 L357.50,133.55 L357.75,133.56 L358.00,133.57 L358.25,133.57 L358.50,133.58 L358.75,133.59 L359.00,133.59 L359.25,133.60 L359.50,133.61 L359.75,133.61 L360.00,133.62 L360.25,133.63 L360.50,133.63 L360.75,133.64 L361.00,133.65 L361.25,133.65 L361.50,133.66 L361.75,133.66 L362.00,133.67 L362.25,133.67 L362.50,133.68 L362.75,133.68 L363.00,133.68 L363.25,133.69 L363.50,133.69 L363.75,133.69 L364.00,133.70 L364.25,133.70 L364.50,133.70 L364.75,133.70 L365.00,133.70 L365.25,133.70 L365.50,133.69 L365.75,133.68 L366.00,133.66 L366.25,133.64 L366.50,133.61 L366.75,133.58 L367.00,133.54 L367.25,133.50 L367.50,133.46 L367.75,133.41 L368.00,133.37 L368.25,133.32 L368.50,133.27 L368.75,133.21 L369.00,133.16 L369.25,133.11 L369.50,133.06 L369.75,133.00 L370.00,132.93 L370.25,132.86 L370.50,132.79 L370.75,132.70 L371.00,132.62 L371.25,132.53 L371.50,132.43 L371.75,132.33 L372.00,132.23 L372.25,132.12 L372.50,132.01 L372.75,131.90 L373.00,131.78 L373.25,131.66 L373.50,131.53 L373.75,131.40 L374.00,131.27 L374.25,131.14 L374.50,131.01 L374.75,130.87 L375.00,130.73 L375.25,130.58 L375.50,130.41 L375.75,130.24 L376.00,130.05 L376.25,129.86 L376.50,129.65 L376.75,129.43 L377.00,129.20 L377.25,128.95 L377.50,128.66 L377.75,128.35 L378.00,128.02 L378.25,127.67 L378.50,127.32 L378.75,126.96 L379.00,126.60 L379.25,126.24 L379.50,125.88 L379.75,125.52 L380.00,125.15 L380.25,124.78 L380.50,124.39 L380.75,124.00 L381.00,123.60 L381.25,123.19 L381.50,122.76 L381.75,122.32 L382.00,121.87 L382.25,121.41 L382.50,120.92 L382.75,120.41 L383.00,119.89 L383.25,119.35 L383.50,118.79 L383.75,118.21 L384.00,117.62 L384.25,117.02 L384.50,116.40 L384.75,115.78 L385.00,115.14 L385.25,114.49 L385.50,113.84 L385.75,113.17 L386.00,112.49 L386.25,111.80 L386.50,111.09 L386.75,110.36 L387.00,109.61 L387.25,108.83 L387.50,108.03 L387.75,107.21 L388.00,106.35 L388.25,105.46 L388.50,104.51 L388.75,103.51 L389.00,102.47 L389.25,101.38 L389.50,100.28 L389.75,99.14 L390.00,98.00 L390.25,96.84 L390.50,95.68 L390.75,94.50 L391.00,93.30 L391.25,92.09 L391.50,90.87 L391.75,89.64 L392.00,88.39 L392.25,87.13 L392.50,85.85 L392.75,84.56 L393.00,83.25 L393.25,81.93 L393.50,80.59 L393.75,79.24 L394.00,77.87 L394.25,76.48 L394.50,75.08 L394.75,73.66 L395.00,72.22 L395.25,70.77 L395.50,69.30 L395.75,67.81 L396.00,66.30 L396.25,64.77 L396.50,63.19 L396.75,61.57 L397.00,59.91 L397.25,58.22 L397.50,56.49 L397.75,54.74 L398.00,52.97 L398.25,51.17 L398.50,49.36 L398.75,47.54 L399.00,45.70 L399.25,43.86 L399.50,42.02 L399.75,40.19 L400.00,38.35 L400.25,36.53 L400.50,34.72 L400.75,32.92 L401.00,31.11 L401.25,29.30 L401.50,27.47 L401.75,25.64 L402.00,23.80 L402.25,21.96 L402.50,20.11 L402.75,18.27 L403.00,16.42 L403.25,14.58 L403.50,12.73 L403.75,10.89 L404.00,9.06 L404.25,7.23 L404.50,5.37 L404.75,3.35 L405.00,1.17 L405.25,-1.11 L405.50,-3.48 L405.75,-5.88 L406.00,-8.29 L406.25,-10.67 L406.50,-12.99 L406.75,-15.20 L407.00,-17.28 L407.25,-19.18 L407.50,-20.88 L407.75,-22.33 L408.00,-23.50 L408.25,-24.36 L408.50,-24.87 L408.75,-25.00 L409.00,-25.00 L409.25,-25.00 L409.50,-25.00 L409.75,-25.00 L410.00,-25.00 L410.25,-25.00 L410.50,-25.00 L410.75,-25.00 L411.00,-25.00 L411.25,-25.00 L411.50,-25.00 L411.75,-25.00 L412.00,-25.00 L412.25,-25.00 L412.50,-25.00 L412.75,-25.00 L413.00,-25.00 L413.25,-25.00 L413.50,-25.00 L413.75,-25.00 L414.00,-25.00 L414.25,-25.00 L414.50,-25.00 L414.75,-25.00 L415.00,-25.00 L415.25,-25.00 L415.50,-25.00 L415.75,-25.00 L416.00,-25.00 L416.25,-25.00 L416.50,-25.00 L416.75,-25.00 L417.00,-25.00 L417.25,-25.00 L417.50,-25.00 L417.75,-25.00 L418.00,-25.00 L418.25,-25.00 L418.50,-25.00 L418.75,-25.00 L419.00,-25.00 L419.25,-25.00 L419.50,-25.00 L419.75,-25.00 L420.00,-25.00 L420.25,-25.00 L420.50,-25.00 L420.75,-25.00 L421.00,-25.00 L421.25,-25.00 L421.50,-25.00 L421.75,-25.00 L422.00,-25.00 L422.25,-25.00 L422.50,-25.00 L422.60,-25.00" stroke="#008b00" stroke-dasharray="1.3 2.05 6.0 2.15"/>
</g>
<g stroke="#000" stroke-width="0.7" fill="none">
<line x1="87.08" y1="262.3" x2="87.08" y2="258.7"/>
<line x1="87.08" y1="6.4" x2="87.08" y2="10.0"/>
<line x1="116.65" y1="262.3" x2="116.65" y2="255.3"/>
<line x1="116.65" y1="6.4" x2="116.65" y2="13.4"/>
<line x1="146.22" y1="262.3" x2="146.22" y2="258.7"/>
<line x1="146.22" y1="6.4" x2="146.22" y2="10.0"/>
<line x1="175.80" y1="262.3" x2="175.80" y2="255.3"/>
<line x1="175.80" y1="6.4" x2="175.80" y2="13.4"/>
<line x1="205.38" y1="262.3" x2="205.38" y2="258.7"/>
<line x1="205.38" y1="6.4" x2="205.38" y2="10.0"/>
<line x1="234.95" y1="262.3" x2="234.95" y2="255.3"/>
<line x1="234.95" y1="6.4" x2="234.95" y2="13.4"/>
<line x1="264.52" y1="262.3" x2="264.52" y2="258.7"/>
<line x1="264.52" y1="6.4" x2="264.52" y2="10.0"/>
<line x1="294.10" y1="262.3" x2="294.10" y2="255.3"/>
<line x1="294.10" y1="6.4" x2="294.10" y2="13.4"/>
<line x1="323.68" y1="262.3" x2="323.68" y2="258.7"/>
<line x1="323.68" y1="6.4" x2="323.68" y2="10.0"/>
<line x1="353.25" y1="262.3" x2="353.25" y2="255.3"/>
<line x1="353.25" y1="6.4" x2="353.25" y2="13.4"/>
<line x1="382.82" y1="262.3" x2="382.82" y2="258.7"/>
<line x1="382.82" y1="6.4" x2="382.82" y2="10.0"/>
<line x1="412.40" y1="262.3" x2="412.40" y2="255.3"/>
<line x1="412.40" y1="6.4" x2="412.40" y2="13.4"/>
<line x1="57.5" y1="38.39" x2="61.1" y2="38.39"/>
<line x1="422.6" y1="38.39" x2="419.0" y2="38.39"/>
<line x1="57.5" y1="70.38" x2="64.5" y2="70.38"/>
<line x1="422.6" y1="70.38" x2="415.6" y2="70.38"/>
<line x1="57.5" y1="102.36" x2="61.1" y2="102.36"/>
<line x1="422.6" y1="102.36" x2="419.0" y2="102.36"/>
<line x1="57.5" y1="134.35" x2="64.5" y2="134.35"/>
<line x1="422.6" y1="134.35" x2="415.6" y2="134.35"/>
<line x1="57.5" y1="166.34" x2="61.1" y2="166.34"/>
<line x1="422.6" y1="166.34" x2="419.0" y2="166.34"/>
<line x1="57.5" y1="198.33" x2="64.5" y2="198.33"/>
<line x1="422.6" y1="198.33" x2="415.6" y2="198.33"/>
<line x1="57.5" y1="230.31" x2="61.1" y2="230.31"/>
<line x1="422.6" y1="230.31" x2="419.0" y2="230.31"/>
</g>
<rect x="57.5" y="6.4" width="365.1" height="255.9" fill="none" stroke="#000" stroke-width="0.85"/>
<circle cx="57.5" cy="167.4" r="5.7"/>
<circle cx="149.0" cy="167.4" r="5.85"/>
<circle cx="422.6" cy="167.4" r="5.7"/>
<g fill="none" stroke-width="1.05">
<path d="M203.8,45 L218.8,45" stroke="#0000ff"/>
<path d="M203.8,60.3 L218.8,60.3" stroke="#ff0000" stroke-dasharray="5.8 2.35"/>
<path d="M203.8,75.6 L218.8,75.6" stroke="#008b00" stroke-dasharray="1.3 2.05 6.0 2.15"/>
</g>
<g opacity="0.999">
<text transform="translate(57.50,277.60) scale(1,1.045)" text-anchor="middle">0</text>
<text transform="translate(118.35,277.60) scale(1,1.045)" text-anchor="middle">1</text>
<text transform="translate(175.80,277.60) scale(1,1.045)" text-anchor="middle">2</text>
<text transform="translate(234.95,277.60) scale(1,1.045)" text-anchor="middle">3</text>
<text transform="translate(294.10,277.60) scale(1,1.045)" text-anchor="middle">4</text>
<text transform="translate(353.25,277.60) scale(1,1.045)" text-anchor="middle">5</text>
<text transform="translate(412.40,277.60) scale(1,1.045)" text-anchor="middle">6</text>
<text transform="translate(54.70,11.75) scale(1,1.045)" text-anchor="end">0.02</text>
<text transform="translate(56.40,75.72) scale(1,1.045)" text-anchor="end">0.01</text>
<text transform="translate(54.30,139.70) scale(1,1.045)" text-anchor="end">0.00</text>
<text transform="translate(56.60,203.68) scale(1,1.045)" text-anchor="end">-0.01</text>
<text transform="translate(54.50,267.65) scale(1,1.045)" text-anchor="end">-0.02</text>
<text transform="translate(226.30,50.50) scale(1,1.045)" text-anchor="start">EXX-OEP - RPA-OEP</text>
<text transform="translate(226.30,65.80) scale(1,1.045)" text-anchor="start">LDA - RPA-OEP</text>
<text transform="translate(226.30,81.10) scale(1,1.045)" text-anchor="start">HSE - RPA-OEP</text>
<text transform="translate(240.50,295.50) scale(1,1.045)" text-anchor="middle">Position (Å)</text>
<text transform="translate(11.80,133.60) rotate(-90) scale(1,1.045)" text-anchor="middle">Electron density difference (a.u.)</text>
</g>
</svg>
</body></html>
